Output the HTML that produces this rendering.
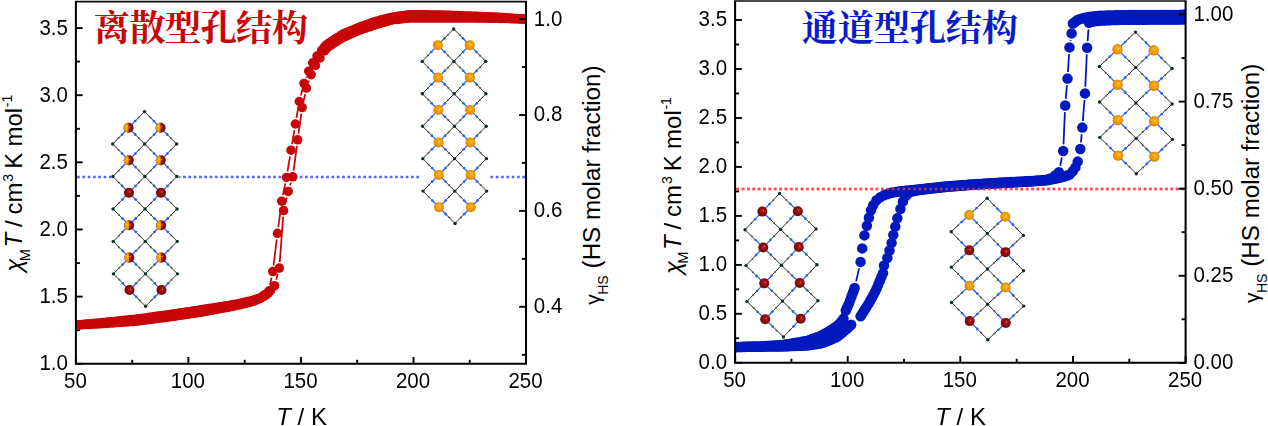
<!DOCTYPE html>
<html><head><meta charset="utf-8"><title>SCO plots</title>
<style>html,body{margin:0;padding:0;background:#fff;}body{width:1268px;height:426px;overflow:hidden;font-family:"Liberation Sans", sans-serif;}svg{display:block;}</style>
</head><body>
<svg width="1268" height="426" viewBox="0 0 1268 426">
<defs>
<radialGradient id="gO" cx="0.5" cy="0.5" r="0.56" fx="0.60" fy="0.40">
<stop offset="0" stop-color="#FFE27A"/><stop offset="0.18" stop-color="#FBAE1E"/><stop offset="0.55" stop-color="#F59A00"/><stop offset="0.85" stop-color="#DD8800"/><stop offset="1" stop-color="#B87000"/>
</radialGradient>
<radialGradient id="gR" cx="0.5" cy="0.5" r="0.56" fx="0.60" fy="0.40">
<stop offset="0" stop-color="#E69A9A"/><stop offset="0.16" stop-color="#A81A1A"/><stop offset="0.55" stop-color="#8E0C0C"/><stop offset="0.85" stop-color="#760808"/><stop offset="1" stop-color="#540303"/>
</radialGradient>
</defs>
<rect width="1268" height="426" fill="#fff"/>
<clipPath id="clipL"><rect x="75.9" y="1.6" width="450.1" height="362.2"/></clipPath>
<g stroke="#000" stroke-width="1.9" fill="none">
<path d="M75.9 363.8h6.8"/>
<path d="M75.9 296.6h6.8"/>
<path d="M75.9 229.5h6.8"/>
<path d="M75.9 162.3h6.8"/>
<path d="M75.9 95.2h6.8"/>
<path d="M75.9 28.1h6.8"/>
<path d="M75.9 330.2h4"/>
<path d="M75.9 263.1h4"/>
<path d="M75.9 195.9h4"/>
<path d="M75.9 128.8h4"/>
<path d="M75.9 61.6h4"/>
<path d="M75.9 363.8v-6.8"/>
<path d="M188.4 363.8v-6.8"/>
<path d="M301.0 363.8v-6.8"/>
<path d="M413.5 363.8v-6.8"/>
<path d="M526.0 363.8v-6.8"/>
<path d="M132.2 363.8v-4"/>
<path d="M244.7 363.8v-4"/>
<path d="M357.2 363.8v-4"/>
<path d="M469.7 363.8v-4"/>
</g>
<g clip-path="url(#clipL)">
<path d="M77.10000000000001 177.0H526.0" stroke="#5868EE" stroke-width="2.7" stroke-dasharray="2.7 2.6" fill="none"/>
<path d="M270.04 285.08L271.56 277.62M273.55 265.50L276.75 239.40M278.30 227.20L280.90 207.30M282.92 195.17L285.28 183.43M287.50 171.33L290.00 156.27M292.02 144.13L294.38 130.07M296.45 117.94L298.25 107.56M300.85 95.55L302.45 89.35M306.21 77.66L306.49 76.94" stroke="#C80508" stroke-width="1.75" fill="none"/>
<g fill="#C80508">
<circle cx="76.0" cy="325.0" r="4.75"/>
<circle cx="78.2" cy="324.9" r="4.75"/>
<circle cx="80.5" cy="324.7" r="4.75"/>
<circle cx="82.8" cy="324.5" r="4.75"/>
<circle cx="85.0" cy="324.3" r="4.75"/>
<circle cx="87.2" cy="324.1" r="4.75"/>
<circle cx="89.5" cy="323.9" r="4.75"/>
<circle cx="91.8" cy="323.7" r="4.75"/>
<circle cx="94.0" cy="323.4" r="4.75"/>
<circle cx="96.2" cy="323.2" r="4.75"/>
<circle cx="98.5" cy="323.0" r="4.75"/>
<circle cx="100.8" cy="322.8" r="4.75"/>
<circle cx="103.0" cy="322.6" r="4.75"/>
<circle cx="105.2" cy="322.4" r="4.75"/>
<circle cx="107.5" cy="322.1" r="4.75"/>
<circle cx="109.8" cy="321.9" r="4.75"/>
<circle cx="112.0" cy="321.7" r="4.75"/>
<circle cx="114.2" cy="321.5" r="4.75"/>
<circle cx="116.5" cy="321.2" r="4.75"/>
<circle cx="118.8" cy="321.0" r="4.75"/>
<circle cx="121.0" cy="320.8" r="4.75"/>
<circle cx="123.2" cy="320.5" r="4.75"/>
<circle cx="125.5" cy="320.3" r="4.75"/>
<circle cx="127.8" cy="320.1" r="4.75"/>
<circle cx="130.0" cy="319.8" r="4.75"/>
<circle cx="132.2" cy="319.6" r="4.75"/>
<circle cx="134.5" cy="319.4" r="4.75"/>
<circle cx="136.8" cy="319.1" r="4.75"/>
<circle cx="139.0" cy="318.8" r="4.75"/>
<circle cx="141.2" cy="318.5" r="4.75"/>
<circle cx="143.5" cy="318.2" r="4.75"/>
<circle cx="145.8" cy="317.9" r="4.75"/>
<circle cx="148.0" cy="317.6" r="4.75"/>
<circle cx="150.2" cy="317.3" r="4.75"/>
<circle cx="152.5" cy="316.9" r="4.75"/>
<circle cx="154.8" cy="316.6" r="4.75"/>
<circle cx="157.0" cy="316.3" r="4.75"/>
<circle cx="159.2" cy="316.0" r="4.75"/>
<circle cx="161.5" cy="315.7" r="4.75"/>
<circle cx="163.8" cy="315.4" r="4.75"/>
<circle cx="166.0" cy="315.1" r="4.75"/>
<circle cx="168.2" cy="314.8" r="4.75"/>
<circle cx="170.5" cy="314.4" r="4.75"/>
<circle cx="172.8" cy="314.1" r="4.75"/>
<circle cx="175.0" cy="313.8" r="4.75"/>
<circle cx="177.2" cy="313.4" r="4.75"/>
<circle cx="179.5" cy="313.1" r="4.75"/>
<circle cx="181.8" cy="312.7" r="4.75"/>
<circle cx="184.0" cy="312.4" r="4.75"/>
<circle cx="186.2" cy="312.1" r="4.75"/>
<circle cx="188.5" cy="311.7" r="4.75"/>
<circle cx="190.8" cy="311.4" r="4.75"/>
<circle cx="193.0" cy="311.0" r="4.75"/>
<circle cx="195.2" cy="310.7" r="4.75"/>
<circle cx="197.5" cy="310.4" r="4.75"/>
<circle cx="199.8" cy="310.0" r="4.75"/>
<circle cx="202.0" cy="309.7" r="4.75"/>
<circle cx="204.2" cy="309.3" r="4.75"/>
<circle cx="206.5" cy="309.0" r="4.75"/>
<circle cx="208.8" cy="308.6" r="4.75"/>
<circle cx="211.0" cy="308.2" r="4.75"/>
<circle cx="213.2" cy="307.9" r="4.75"/>
<circle cx="215.5" cy="307.5" r="4.75"/>
<circle cx="217.8" cy="307.2" r="4.75"/>
<circle cx="220.0" cy="306.8" r="4.75"/>
<circle cx="222.2" cy="306.4" r="4.75"/>
<circle cx="224.5" cy="306.1" r="4.75"/>
<circle cx="226.8" cy="305.7" r="4.75"/>
<circle cx="229.0" cy="305.4" r="4.75"/>
<circle cx="231.2" cy="305.0" r="4.75"/>
<circle cx="233.5" cy="304.6" r="4.75"/>
<circle cx="235.8" cy="304.3" r="4.75"/>
<circle cx="238.0" cy="303.8" r="4.75"/>
<circle cx="240.2" cy="303.2" r="4.75"/>
<circle cx="242.5" cy="302.7" r="4.75"/>
<circle cx="244.8" cy="302.2" r="4.75"/>
<circle cx="247.0" cy="301.7" r="4.75"/>
<circle cx="249.2" cy="301.2" r="4.75"/>
<circle cx="251.5" cy="300.7" r="4.75"/>
<circle cx="253.8" cy="300.0" r="4.75"/>
<circle cx="256.0" cy="299.3" r="4.75"/>
<circle cx="258.2" cy="298.5" r="4.75"/>
<circle cx="260.5" cy="297.8" r="4.75"/>
<circle cx="262.8" cy="296.1" r="4.75"/>
<circle cx="265.0" cy="294.5" r="4.75"/>
<circle cx="268.8" cy="291.1" r="4.75"/>
<circle cx="272.8" cy="271.6" r="4.75"/>
<circle cx="277.5" cy="233.3" r="4.75"/>
<circle cx="281.7" cy="201.2" r="4.75"/>
<circle cx="286.5" cy="177.4" r="4.75"/>
<circle cx="291.0" cy="150.2" r="4.75"/>
<circle cx="295.4" cy="124.0" r="4.75"/>
<circle cx="299.3" cy="101.5" r="4.75"/>
<circle cx="304.0" cy="83.4" r="4.75"/>
<circle cx="308.7" cy="71.2" r="4.75"/>
<circle cx="312.7" cy="62.8" r="4.75"/>
<circle cx="317.0" cy="56.0" r="4.75"/>
<circle cx="321.5" cy="50.5" r="4.75"/>
<circle cx="323.8" cy="47.8" r="4.75"/>
<circle cx="326.0" cy="45.2" r="4.75"/>
<circle cx="328.2" cy="43.5" r="4.75"/>
<circle cx="330.5" cy="42.1" r="4.75"/>
<circle cx="332.8" cy="40.6" r="4.75"/>
<circle cx="335.0" cy="39.2" r="4.75"/>
<circle cx="337.2" cy="37.7" r="4.75"/>
<circle cx="339.5" cy="36.3" r="4.75"/>
<circle cx="341.8" cy="34.8" r="4.75"/>
<circle cx="344.0" cy="33.6" r="4.75"/>
<circle cx="346.2" cy="32.7" r="4.75"/>
<circle cx="348.5" cy="31.8" r="4.75"/>
<circle cx="350.8" cy="30.8" r="4.75"/>
<circle cx="353.0" cy="29.9" r="4.75"/>
<circle cx="355.2" cy="29.0" r="4.75"/>
<circle cx="357.5" cy="28.0" r="4.75"/>
<circle cx="359.8" cy="27.1" r="4.75"/>
<circle cx="362.0" cy="26.3" r="4.75"/>
<circle cx="364.2" cy="25.5" r="4.75"/>
<circle cx="366.5" cy="24.7" r="4.75"/>
<circle cx="368.8" cy="23.9" r="4.75"/>
<circle cx="371.0" cy="23.1" r="4.75"/>
<circle cx="373.2" cy="22.3" r="4.75"/>
<circle cx="375.5" cy="21.5" r="4.75"/>
<circle cx="377.8" cy="20.9" r="4.75"/>
<circle cx="380.0" cy="20.3" r="4.75"/>
<circle cx="382.2" cy="19.7" r="4.75"/>
<circle cx="384.5" cy="19.1" r="4.75"/>
<circle cx="386.8" cy="18.5" r="4.75"/>
<circle cx="389.0" cy="18.0" r="4.75"/>
<circle cx="391.2" cy="17.4" r="4.75"/>
<circle cx="393.5" cy="17.0" r="4.75"/>
<circle cx="395.8" cy="16.7" r="4.75"/>
<circle cx="398.0" cy="16.3" r="4.75"/>
<circle cx="400.2" cy="16.0" r="4.75"/>
<circle cx="402.5" cy="15.7" r="4.75"/>
<circle cx="404.8" cy="15.4" r="4.75"/>
<circle cx="407.0" cy="15.1" r="4.75"/>
<circle cx="409.2" cy="14.8" r="4.75"/>
<circle cx="411.5" cy="14.7" r="4.75"/>
<circle cx="413.8" cy="14.7" r="4.75"/>
<circle cx="416.0" cy="14.7" r="4.75"/>
<circle cx="418.2" cy="14.7" r="4.75"/>
<circle cx="420.5" cy="14.8" r="4.75"/>
<circle cx="422.8" cy="14.8" r="4.75"/>
<circle cx="425.0" cy="14.8" r="4.75"/>
<circle cx="427.2" cy="14.8" r="4.75"/>
<circle cx="429.5" cy="14.9" r="4.75"/>
<circle cx="431.8" cy="14.9" r="4.75"/>
<circle cx="434.0" cy="14.9" r="4.75"/>
<circle cx="436.2" cy="14.9" r="4.75"/>
<circle cx="438.5" cy="15.0" r="4.75"/>
<circle cx="440.8" cy="15.0" r="4.75"/>
<circle cx="443.0" cy="15.1" r="4.75"/>
<circle cx="445.2" cy="15.2" r="4.75"/>
<circle cx="447.5" cy="15.3" r="4.75"/>
<circle cx="449.8" cy="15.3" r="4.75"/>
<circle cx="452.0" cy="15.4" r="4.75"/>
<circle cx="454.2" cy="15.5" r="4.75"/>
<circle cx="456.5" cy="15.6" r="4.75"/>
<circle cx="458.8" cy="15.7" r="4.75"/>
<circle cx="461.0" cy="15.7" r="4.75"/>
<circle cx="463.2" cy="15.8" r="4.75"/>
<circle cx="465.5" cy="15.9" r="4.75"/>
<circle cx="467.8" cy="16.0" r="4.75"/>
<circle cx="470.0" cy="16.1" r="4.75"/>
<circle cx="472.2" cy="16.2" r="4.75"/>
<circle cx="474.5" cy="16.2" r="4.75"/>
<circle cx="476.8" cy="16.3" r="4.75"/>
<circle cx="479.0" cy="16.4" r="4.75"/>
<circle cx="481.2" cy="16.5" r="4.75"/>
<circle cx="483.5" cy="16.6" r="4.75"/>
<circle cx="485.8" cy="16.7" r="4.75"/>
<circle cx="488.0" cy="16.8" r="4.75"/>
<circle cx="490.2" cy="16.9" r="4.75"/>
<circle cx="492.5" cy="16.9" r="4.75"/>
<circle cx="494.8" cy="17.0" r="4.75"/>
<circle cx="497.0" cy="17.2" r="4.75"/>
<circle cx="499.2" cy="17.3" r="4.75"/>
<circle cx="501.5" cy="17.5" r="4.75"/>
<circle cx="503.8" cy="17.6" r="4.75"/>
<circle cx="506.0" cy="17.8" r="4.75"/>
<circle cx="508.2" cy="17.9" r="4.75"/>
<circle cx="510.5" cy="18.1" r="4.75"/>
<circle cx="512.8" cy="18.2" r="4.75"/>
<circle cx="515.0" cy="18.4" r="4.75"/>
<circle cx="517.2" cy="18.5" r="4.75"/>
<circle cx="519.5" cy="18.7" r="4.75"/>
<circle cx="521.8" cy="18.8" r="4.75"/>
<circle cx="524.0" cy="19.0" r="4.75"/>
<circle cx="526.2" cy="19.1" r="4.75"/>
</g>
<path d="M276.19 279.76L277.71 274.04M279.76 261.97L283.14 216.73M285.03 204.62L286.77 197.38M290.05 185.53L290.95 182.67M293.61 170.70L296.89 145.90M298.55 133.71L301.35 113.69M303.49 101.59L305.11 94.11M308.44 82.30L309.06 80.50" stroke="#C80508" stroke-width="1.75" fill="none"/>
<g fill="#C80508">
<circle cx="77.0" cy="325.0" r="4.75"/>
<circle cx="79.2" cy="324.9" r="4.75"/>
<circle cx="81.5" cy="324.7" r="4.75"/>
<circle cx="83.8" cy="324.6" r="4.75"/>
<circle cx="86.0" cy="324.5" r="4.75"/>
<circle cx="88.2" cy="324.4" r="4.75"/>
<circle cx="90.5" cy="324.3" r="4.75"/>
<circle cx="92.8" cy="324.1" r="4.75"/>
<circle cx="95.0" cy="324.0" r="4.75"/>
<circle cx="97.2" cy="323.9" r="4.75"/>
<circle cx="99.5" cy="323.8" r="4.75"/>
<circle cx="101.8" cy="323.7" r="4.75"/>
<circle cx="104.0" cy="323.5" r="4.75"/>
<circle cx="106.2" cy="323.4" r="4.75"/>
<circle cx="108.5" cy="323.2" r="4.75"/>
<circle cx="110.8" cy="323.0" r="4.75"/>
<circle cx="113.0" cy="322.9" r="4.75"/>
<circle cx="115.2" cy="322.7" r="4.75"/>
<circle cx="117.5" cy="322.6" r="4.75"/>
<circle cx="119.8" cy="322.4" r="4.75"/>
<circle cx="122.0" cy="322.2" r="4.75"/>
<circle cx="124.2" cy="322.1" r="4.75"/>
<circle cx="126.5" cy="321.9" r="4.75"/>
<circle cx="128.8" cy="321.7" r="4.75"/>
<circle cx="131.0" cy="321.6" r="4.75"/>
<circle cx="133.2" cy="321.4" r="4.75"/>
<circle cx="135.5" cy="321.3" r="4.75"/>
<circle cx="137.8" cy="321.0" r="4.75"/>
<circle cx="140.0" cy="320.7" r="4.75"/>
<circle cx="142.2" cy="320.4" r="4.75"/>
<circle cx="144.5" cy="320.1" r="4.75"/>
<circle cx="146.8" cy="319.8" r="4.75"/>
<circle cx="149.0" cy="319.5" r="4.75"/>
<circle cx="151.2" cy="319.3" r="4.75"/>
<circle cx="153.5" cy="319.0" r="4.75"/>
<circle cx="155.8" cy="318.7" r="4.75"/>
<circle cx="158.0" cy="318.4" r="4.75"/>
<circle cx="160.2" cy="318.1" r="4.75"/>
<circle cx="162.5" cy="317.8" r="4.75"/>
<circle cx="164.8" cy="317.5" r="4.75"/>
<circle cx="167.0" cy="317.2" r="4.75"/>
<circle cx="169.2" cy="316.9" r="4.75"/>
<circle cx="171.5" cy="316.6" r="4.75"/>
<circle cx="173.8" cy="316.3" r="4.75"/>
<circle cx="176.0" cy="315.9" r="4.75"/>
<circle cx="178.2" cy="315.6" r="4.75"/>
<circle cx="180.5" cy="315.3" r="4.75"/>
<circle cx="182.8" cy="314.9" r="4.75"/>
<circle cx="185.0" cy="314.6" r="4.75"/>
<circle cx="187.2" cy="314.3" r="4.75"/>
<circle cx="189.5" cy="313.9" r="4.75"/>
<circle cx="191.8" cy="313.6" r="4.75"/>
<circle cx="194.0" cy="313.3" r="4.75"/>
<circle cx="196.2" cy="312.9" r="4.75"/>
<circle cx="198.5" cy="312.6" r="4.75"/>
<circle cx="200.8" cy="312.3" r="4.75"/>
<circle cx="203.0" cy="311.9" r="4.75"/>
<circle cx="205.2" cy="311.5" r="4.75"/>
<circle cx="207.5" cy="311.1" r="4.75"/>
<circle cx="209.8" cy="310.6" r="4.75"/>
<circle cx="212.0" cy="310.2" r="4.75"/>
<circle cx="214.2" cy="309.8" r="4.75"/>
<circle cx="216.5" cy="309.4" r="4.75"/>
<circle cx="218.8" cy="309.0" r="4.75"/>
<circle cx="221.0" cy="308.5" r="4.75"/>
<circle cx="223.2" cy="308.1" r="4.75"/>
<circle cx="225.5" cy="307.7" r="4.75"/>
<circle cx="227.8" cy="307.3" r="4.75"/>
<circle cx="230.0" cy="306.8" r="4.75"/>
<circle cx="232.2" cy="306.4" r="4.75"/>
<circle cx="234.5" cy="306.0" r="4.75"/>
<circle cx="236.8" cy="305.5" r="4.75"/>
<circle cx="239.0" cy="305.0" r="4.75"/>
<circle cx="241.2" cy="304.4" r="4.75"/>
<circle cx="243.5" cy="303.8" r="4.75"/>
<circle cx="245.8" cy="303.3" r="4.75"/>
<circle cx="248.0" cy="302.7" r="4.75"/>
<circle cx="250.2" cy="302.2" r="4.75"/>
<circle cx="252.5" cy="301.6" r="4.75"/>
<circle cx="254.8" cy="300.7" r="4.75"/>
<circle cx="257.0" cy="299.8" r="4.75"/>
<circle cx="259.2" cy="298.9" r="4.75"/>
<circle cx="261.5" cy="297.7" r="4.75"/>
<circle cx="263.8" cy="296.3" r="4.75"/>
<circle cx="266.0" cy="294.8" r="4.75"/>
<circle cx="268.2" cy="293.2" r="4.75"/>
<circle cx="270.5" cy="290.6" r="4.75"/>
<circle cx="274.6" cy="285.7" r="4.75"/>
<circle cx="279.3" cy="268.1" r="4.75"/>
<circle cx="283.6" cy="210.6" r="4.75"/>
<circle cx="288.2" cy="191.4" r="4.75"/>
<circle cx="292.8" cy="176.8" r="4.75"/>
<circle cx="297.7" cy="139.8" r="4.75"/>
<circle cx="302.2" cy="107.6" r="4.75"/>
<circle cx="306.4" cy="88.1" r="4.75"/>
<circle cx="311.1" cy="74.7" r="4.75"/>
<circle cx="315.5" cy="65.5" r="4.75"/>
<circle cx="320.0" cy="58.0" r="4.75"/>
<circle cx="324.5" cy="51.0" r="4.75"/>
<circle cx="326.8" cy="47.9" r="4.75"/>
<circle cx="329.0" cy="46.4" r="4.75"/>
<circle cx="331.2" cy="45.0" r="4.75"/>
<circle cx="333.5" cy="43.5" r="4.75"/>
<circle cx="335.8" cy="42.0" r="4.75"/>
<circle cx="338.0" cy="40.6" r="4.75"/>
<circle cx="340.2" cy="39.1" r="4.75"/>
<circle cx="342.5" cy="37.7" r="4.75"/>
<circle cx="344.8" cy="36.6" r="4.75"/>
<circle cx="347.0" cy="35.6" r="4.75"/>
<circle cx="349.2" cy="34.6" r="4.75"/>
<circle cx="351.5" cy="33.6" r="4.75"/>
<circle cx="353.8" cy="32.6" r="4.75"/>
<circle cx="356.0" cy="31.6" r="4.75"/>
<circle cx="358.2" cy="30.7" r="4.75"/>
<circle cx="360.5" cy="29.8" r="4.75"/>
<circle cx="362.8" cy="29.0" r="4.75"/>
<circle cx="365.0" cy="28.3" r="4.75"/>
<circle cx="367.2" cy="27.5" r="4.75"/>
<circle cx="369.5" cy="26.8" r="4.75"/>
<circle cx="371.8" cy="26.0" r="4.75"/>
<circle cx="374.0" cy="25.3" r="4.75"/>
<circle cx="376.2" cy="24.5" r="4.75"/>
<circle cx="378.5" cy="23.9" r="4.75"/>
<circle cx="380.8" cy="23.2" r="4.75"/>
<circle cx="383.0" cy="22.5" r="4.75"/>
<circle cx="385.2" cy="21.9" r="4.75"/>
<circle cx="387.5" cy="21.2" r="4.75"/>
<circle cx="389.8" cy="20.6" r="4.75"/>
<circle cx="392.0" cy="19.9" r="4.75"/>
<circle cx="394.2" cy="19.6" r="4.75"/>
<circle cx="396.5" cy="19.4" r="4.75"/>
<circle cx="398.8" cy="19.2" r="4.75"/>
<circle cx="401.0" cy="18.9" r="4.75"/>
<circle cx="403.2" cy="18.7" r="4.75"/>
<circle cx="405.5" cy="18.4" r="4.75"/>
<circle cx="407.8" cy="18.2" r="4.75"/>
<circle cx="410.0" cy="17.9" r="4.75"/>
<circle cx="412.2" cy="17.9" r="4.75"/>
<circle cx="414.5" cy="17.9" r="4.75"/>
<circle cx="416.8" cy="17.9" r="4.75"/>
<circle cx="419.0" cy="17.9" r="4.75"/>
<circle cx="421.2" cy="17.9" r="4.75"/>
<circle cx="423.5" cy="17.9" r="4.75"/>
<circle cx="425.8" cy="17.9" r="4.75"/>
<circle cx="428.0" cy="17.9" r="4.75"/>
<circle cx="430.2" cy="17.9" r="4.75"/>
<circle cx="432.5" cy="17.9" r="4.75"/>
<circle cx="434.8" cy="17.9" r="4.75"/>
<circle cx="437.0" cy="17.9" r="4.75"/>
<circle cx="439.2" cy="17.9" r="4.75"/>
<circle cx="441.5" cy="17.9" r="4.75"/>
<circle cx="443.8" cy="17.9" r="4.75"/>
<circle cx="446.0" cy="17.9" r="4.75"/>
<circle cx="448.2" cy="17.9" r="4.75"/>
<circle cx="450.5" cy="17.9" r="4.75"/>
<circle cx="452.8" cy="17.9" r="4.75"/>
<circle cx="455.0" cy="17.9" r="4.75"/>
<circle cx="457.2" cy="17.9" r="4.75"/>
<circle cx="459.5" cy="17.9" r="4.75"/>
<circle cx="461.8" cy="17.9" r="4.75"/>
<circle cx="464.0" cy="17.9" r="4.75"/>
<circle cx="466.2" cy="17.9" r="4.75"/>
<circle cx="468.5" cy="18.0" r="4.75"/>
<circle cx="470.8" cy="18.0" r="4.75"/>
<circle cx="473.0" cy="18.0" r="4.75"/>
<circle cx="475.2" cy="18.0" r="4.75"/>
<circle cx="477.5" cy="18.1" r="4.75"/>
<circle cx="479.8" cy="18.1" r="4.75"/>
<circle cx="482.0" cy="18.1" r="4.75"/>
<circle cx="484.2" cy="18.1" r="4.75"/>
<circle cx="486.5" cy="18.2" r="4.75"/>
<circle cx="488.8" cy="18.2" r="4.75"/>
<circle cx="491.0" cy="18.2" r="4.75"/>
<circle cx="493.2" cy="18.2" r="4.75"/>
<circle cx="495.5" cy="18.3" r="4.75"/>
<circle cx="497.8" cy="18.3" r="4.75"/>
<circle cx="500.0" cy="18.4" r="4.75"/>
<circle cx="502.2" cy="18.4" r="4.75"/>
<circle cx="504.5" cy="18.5" r="4.75"/>
<circle cx="506.8" cy="18.6" r="4.75"/>
<circle cx="509.0" cy="18.6" r="4.75"/>
<circle cx="511.2" cy="18.7" r="4.75"/>
<circle cx="513.5" cy="18.8" r="4.75"/>
<circle cx="515.8" cy="18.8" r="4.75"/>
<circle cx="518.0" cy="18.9" r="4.75"/>
<circle cx="520.2" cy="19.0" r="4.75"/>
<circle cx="522.5" cy="19.0" r="4.75"/>
<circle cx="524.8" cy="19.1" r="4.75"/>
</g>
</g>
<rect x="111.0" y="110.1" width="68.1" height="197.7" fill="#fff"/>
<path d="M128.59 127.82L136.07 120.20" stroke="#2B62E8" stroke-width="1.25"/>
<path d="M136.07 120.20L144.50 111.60" stroke="#202020" stroke-width="0.95"/>
<circle cx="135.27" cy="121.01" r="1.3" fill="#2460EE"/>
<circle cx="138.61" cy="117.60" r="1.0" fill="#555"/>
<path d="M128.59 127.82L121.12 135.45" stroke="#2B62E8" stroke-width="1.25"/>
<path d="M121.12 135.45L112.68 144.05" stroke="#202020" stroke-width="0.95"/>
<circle cx="121.91" cy="134.64" r="1.3" fill="#2460EE"/>
<circle cx="118.57" cy="138.05" r="1.0" fill="#555"/>
<path d="M128.59 127.82L136.16 135.45" stroke="#2B62E8" stroke-width="1.25"/>
<path d="M136.16 135.45L144.68 144.05" stroke="#202020" stroke-width="0.95"/>
<circle cx="135.35" cy="134.64" r="1.3" fill="#2460EE"/>
<circle cx="138.73" cy="138.05" r="1.0" fill="#555"/>
<path d="M160.59 127.82L153.03 120.20" stroke="#2B62E8" stroke-width="1.25"/>
<path d="M153.03 120.20L144.50 111.60" stroke="#202020" stroke-width="0.95"/>
<circle cx="153.83" cy="121.01" r="1.3" fill="#2460EE"/>
<circle cx="150.45" cy="117.60" r="1.0" fill="#555"/>
<path d="M160.59 127.82L153.12 135.45" stroke="#2B62E8" stroke-width="1.25"/>
<path d="M153.12 135.45L144.68 144.05" stroke="#202020" stroke-width="0.95"/>
<circle cx="153.91" cy="134.64" r="1.3" fill="#2460EE"/>
<circle cx="150.57" cy="138.05" r="1.0" fill="#555"/>
<path d="M160.59 127.82L168.16 135.45" stroke="#2B62E8" stroke-width="1.25"/>
<path d="M168.16 135.45L176.68 144.05" stroke="#202020" stroke-width="0.95"/>
<circle cx="167.35" cy="134.64" r="1.3" fill="#2460EE"/>
<circle cx="170.73" cy="138.05" r="1.0" fill="#555"/>
<path d="M128.78 160.28L121.21 152.65" stroke="#2B62E8" stroke-width="1.25"/>
<path d="M121.21 152.65L112.68 144.05" stroke="#202020" stroke-width="0.95"/>
<circle cx="122.02" cy="153.46" r="1.3" fill="#2460EE"/>
<circle cx="118.64" cy="150.05" r="1.0" fill="#555"/>
<path d="M128.78 160.28L136.25 152.65" stroke="#2B62E8" stroke-width="1.25"/>
<path d="M136.25 152.65L144.68 144.05" stroke="#202020" stroke-width="0.95"/>
<circle cx="135.46" cy="153.46" r="1.3" fill="#2460EE"/>
<circle cx="138.80" cy="150.05" r="1.0" fill="#555"/>
<path d="M128.78 160.28L121.30 167.90" stroke="#2B62E8" stroke-width="1.25"/>
<path d="M121.30 167.90L112.87 176.50" stroke="#202020" stroke-width="0.95"/>
<circle cx="122.10" cy="167.09" r="1.3" fill="#2460EE"/>
<circle cx="118.76" cy="170.50" r="1.0" fill="#555"/>
<path d="M128.78 160.28L136.34 167.90" stroke="#2B62E8" stroke-width="1.25"/>
<path d="M136.34 167.90L144.87 176.50" stroke="#202020" stroke-width="0.95"/>
<circle cx="135.54" cy="167.09" r="1.3" fill="#2460EE"/>
<circle cx="138.92" cy="170.50" r="1.0" fill="#555"/>
<path d="M160.78 160.28L153.21 152.65" stroke="#2B62E8" stroke-width="1.25"/>
<path d="M153.21 152.65L144.68 144.05" stroke="#202020" stroke-width="0.95"/>
<circle cx="154.02" cy="153.46" r="1.3" fill="#2460EE"/>
<circle cx="150.64" cy="150.05" r="1.0" fill="#555"/>
<path d="M160.78 160.28L168.25 152.65" stroke="#2B62E8" stroke-width="1.25"/>
<path d="M168.25 152.65L176.68 144.05" stroke="#202020" stroke-width="0.95"/>
<circle cx="167.46" cy="153.46" r="1.3" fill="#2460EE"/>
<circle cx="170.80" cy="150.05" r="1.0" fill="#555"/>
<path d="M160.78 160.28L153.30 167.90" stroke="#2B62E8" stroke-width="1.25"/>
<path d="M153.30 167.90L144.87 176.50" stroke="#202020" stroke-width="0.95"/>
<circle cx="154.10" cy="167.09" r="1.3" fill="#2460EE"/>
<circle cx="150.76" cy="170.50" r="1.0" fill="#555"/>
<path d="M160.78 160.28L168.34 167.90" stroke="#2B62E8" stroke-width="1.25"/>
<path d="M168.34 167.90L176.87 176.50" stroke="#202020" stroke-width="0.95"/>
<circle cx="167.54" cy="167.09" r="1.3" fill="#2460EE"/>
<circle cx="170.92" cy="170.50" r="1.0" fill="#555"/>
<path d="M128.96 192.72L121.40 185.10" stroke="#2B62E8" stroke-width="1.25"/>
<path d="M121.40 185.10L112.87 176.50" stroke="#202020" stroke-width="0.95"/>
<circle cx="122.20" cy="185.91" r="1.3" fill="#2460EE"/>
<circle cx="118.82" cy="182.50" r="1.0" fill="#555"/>
<path d="M128.96 192.72L136.44 185.10" stroke="#2B62E8" stroke-width="1.25"/>
<path d="M136.44 185.10L144.87 176.50" stroke="#202020" stroke-width="0.95"/>
<circle cx="135.64" cy="185.91" r="1.3" fill="#2460EE"/>
<circle cx="138.98" cy="182.50" r="1.0" fill="#555"/>
<path d="M128.96 192.72L121.49 200.35" stroke="#2B62E8" stroke-width="1.25"/>
<path d="M121.49 200.35L113.05 208.95" stroke="#202020" stroke-width="0.95"/>
<circle cx="122.28" cy="199.54" r="1.3" fill="#2460EE"/>
<circle cx="118.94" cy="202.95" r="1.0" fill="#555"/>
<path d="M128.96 192.72L136.53 200.35" stroke="#2B62E8" stroke-width="1.25"/>
<path d="M136.53 200.35L145.05 208.95" stroke="#202020" stroke-width="0.95"/>
<circle cx="135.72" cy="199.54" r="1.3" fill="#2460EE"/>
<circle cx="139.10" cy="202.95" r="1.0" fill="#555"/>
<path d="M160.96 192.72L153.40 185.10" stroke="#2B62E8" stroke-width="1.25"/>
<path d="M153.40 185.10L144.87 176.50" stroke="#202020" stroke-width="0.95"/>
<circle cx="154.20" cy="185.91" r="1.3" fill="#2460EE"/>
<circle cx="150.82" cy="182.50" r="1.0" fill="#555"/>
<path d="M160.96 192.72L168.44 185.10" stroke="#2B62E8" stroke-width="1.25"/>
<path d="M168.44 185.10L176.87 176.50" stroke="#202020" stroke-width="0.95"/>
<circle cx="167.64" cy="185.91" r="1.3" fill="#2460EE"/>
<circle cx="170.98" cy="182.50" r="1.0" fill="#555"/>
<path d="M160.96 192.72L153.49 200.35" stroke="#2B62E8" stroke-width="1.25"/>
<path d="M153.49 200.35L145.05 208.95" stroke="#202020" stroke-width="0.95"/>
<circle cx="154.28" cy="199.54" r="1.3" fill="#2460EE"/>
<circle cx="150.94" cy="202.95" r="1.0" fill="#555"/>
<path d="M160.96 192.72L168.53 200.35" stroke="#2B62E8" stroke-width="1.25"/>
<path d="M168.53 200.35L177.05 208.95" stroke="#202020" stroke-width="0.95"/>
<circle cx="167.72" cy="199.54" r="1.3" fill="#2460EE"/>
<circle cx="171.10" cy="202.95" r="1.0" fill="#555"/>
<path d="M129.15 225.18L121.58 217.55" stroke="#2B62E8" stroke-width="1.25"/>
<path d="M121.58 217.55L113.05 208.95" stroke="#202020" stroke-width="0.95"/>
<circle cx="122.39" cy="218.36" r="1.3" fill="#2460EE"/>
<circle cx="119.01" cy="214.95" r="1.0" fill="#555"/>
<path d="M129.15 225.18L136.62 217.55" stroke="#2B62E8" stroke-width="1.25"/>
<path d="M136.62 217.55L145.05 208.95" stroke="#202020" stroke-width="0.95"/>
<circle cx="135.83" cy="218.36" r="1.3" fill="#2460EE"/>
<circle cx="139.17" cy="214.95" r="1.0" fill="#555"/>
<path d="M129.15 225.18L121.67 232.80" stroke="#2B62E8" stroke-width="1.25"/>
<path d="M121.67 232.80L113.24 241.40" stroke="#202020" stroke-width="0.95"/>
<circle cx="122.47" cy="231.99" r="1.3" fill="#2460EE"/>
<circle cx="119.13" cy="235.40" r="1.0" fill="#555"/>
<path d="M129.15 225.18L136.71 232.80" stroke="#2B62E8" stroke-width="1.25"/>
<path d="M136.71 232.80L145.24 241.40" stroke="#202020" stroke-width="0.95"/>
<circle cx="135.91" cy="231.99" r="1.3" fill="#2460EE"/>
<circle cx="139.29" cy="235.40" r="1.0" fill="#555"/>
<path d="M161.15 225.18L153.58 217.55" stroke="#2B62E8" stroke-width="1.25"/>
<path d="M153.58 217.55L145.05 208.95" stroke="#202020" stroke-width="0.95"/>
<circle cx="154.39" cy="218.36" r="1.3" fill="#2460EE"/>
<circle cx="151.01" cy="214.95" r="1.0" fill="#555"/>
<path d="M161.15 225.18L168.62 217.55" stroke="#2B62E8" stroke-width="1.25"/>
<path d="M168.62 217.55L177.05 208.95" stroke="#202020" stroke-width="0.95"/>
<circle cx="167.83" cy="218.36" r="1.3" fill="#2460EE"/>
<circle cx="171.17" cy="214.95" r="1.0" fill="#555"/>
<path d="M161.15 225.18L153.67 232.80" stroke="#2B62E8" stroke-width="1.25"/>
<path d="M153.67 232.80L145.24 241.40" stroke="#202020" stroke-width="0.95"/>
<circle cx="154.47" cy="231.99" r="1.3" fill="#2460EE"/>
<circle cx="151.13" cy="235.40" r="1.0" fill="#555"/>
<path d="M161.15 225.18L168.71 232.80" stroke="#2B62E8" stroke-width="1.25"/>
<path d="M168.71 232.80L177.24 241.40" stroke="#202020" stroke-width="0.95"/>
<circle cx="167.91" cy="231.99" r="1.3" fill="#2460EE"/>
<circle cx="171.29" cy="235.40" r="1.0" fill="#555"/>
<path d="M129.33 257.62L121.77 250.00" stroke="#2B62E8" stroke-width="1.25"/>
<path d="M121.77 250.00L113.24 241.40" stroke="#202020" stroke-width="0.95"/>
<circle cx="122.57" cy="250.81" r="1.3" fill="#2460EE"/>
<circle cx="119.19" cy="247.40" r="1.0" fill="#555"/>
<path d="M129.33 257.62L136.81 250.00" stroke="#2B62E8" stroke-width="1.25"/>
<path d="M136.81 250.00L145.24 241.40" stroke="#202020" stroke-width="0.95"/>
<circle cx="136.01" cy="250.81" r="1.3" fill="#2460EE"/>
<circle cx="139.35" cy="247.40" r="1.0" fill="#555"/>
<path d="M129.33 257.62L121.86 265.25" stroke="#2B62E8" stroke-width="1.25"/>
<path d="M121.86 265.25L113.42 273.85" stroke="#202020" stroke-width="0.95"/>
<circle cx="122.65" cy="264.44" r="1.3" fill="#2460EE"/>
<circle cx="119.31" cy="267.85" r="1.0" fill="#555"/>
<path d="M129.33 257.62L136.90 265.25" stroke="#2B62E8" stroke-width="1.25"/>
<path d="M136.90 265.25L145.42 273.85" stroke="#202020" stroke-width="0.95"/>
<circle cx="136.09" cy="264.44" r="1.3" fill="#2460EE"/>
<circle cx="139.47" cy="267.85" r="1.0" fill="#555"/>
<path d="M161.33 257.62L153.77 250.00" stroke="#2B62E8" stroke-width="1.25"/>
<path d="M153.77 250.00L145.24 241.40" stroke="#202020" stroke-width="0.95"/>
<circle cx="154.57" cy="250.81" r="1.3" fill="#2460EE"/>
<circle cx="151.19" cy="247.40" r="1.0" fill="#555"/>
<path d="M161.33 257.62L168.81 250.00" stroke="#2B62E8" stroke-width="1.25"/>
<path d="M168.81 250.00L177.24 241.40" stroke="#202020" stroke-width="0.95"/>
<circle cx="168.01" cy="250.81" r="1.3" fill="#2460EE"/>
<circle cx="171.35" cy="247.40" r="1.0" fill="#555"/>
<path d="M161.33 257.62L153.86 265.25" stroke="#2B62E8" stroke-width="1.25"/>
<path d="M153.86 265.25L145.42 273.85" stroke="#202020" stroke-width="0.95"/>
<circle cx="154.65" cy="264.44" r="1.3" fill="#2460EE"/>
<circle cx="151.31" cy="267.85" r="1.0" fill="#555"/>
<path d="M161.33 257.62L168.90 265.25" stroke="#2B62E8" stroke-width="1.25"/>
<path d="M168.90 265.25L177.42 273.85" stroke="#202020" stroke-width="0.95"/>
<circle cx="168.09" cy="264.44" r="1.3" fill="#2460EE"/>
<circle cx="171.47" cy="267.85" r="1.0" fill="#555"/>
<path d="M129.52 290.08L121.95 282.45" stroke="#2B62E8" stroke-width="1.25"/>
<path d="M121.95 282.45L113.42 273.85" stroke="#202020" stroke-width="0.95"/>
<circle cx="122.76" cy="283.26" r="1.3" fill="#2460EE"/>
<circle cx="119.38" cy="279.85" r="1.0" fill="#555"/>
<path d="M129.52 290.08L136.99 282.45" stroke="#2B62E8" stroke-width="1.25"/>
<path d="M136.99 282.45L145.42 273.85" stroke="#202020" stroke-width="0.95"/>
<circle cx="136.20" cy="283.26" r="1.3" fill="#2460EE"/>
<circle cx="139.54" cy="279.85" r="1.0" fill="#555"/>
<path d="M129.52 290.08L137.08 297.70" stroke="#2B62E8" stroke-width="1.25"/>
<path d="M137.08 297.70L145.61 306.30" stroke="#202020" stroke-width="0.95"/>
<circle cx="136.28" cy="296.89" r="1.3" fill="#2460EE"/>
<circle cx="139.66" cy="300.30" r="1.0" fill="#555"/>
<path d="M161.52 290.08L153.95 282.45" stroke="#2B62E8" stroke-width="1.25"/>
<path d="M153.95 282.45L145.42 273.85" stroke="#202020" stroke-width="0.95"/>
<circle cx="154.76" cy="283.26" r="1.3" fill="#2460EE"/>
<circle cx="151.38" cy="279.85" r="1.0" fill="#555"/>
<path d="M161.52 290.08L168.99 282.45" stroke="#2B62E8" stroke-width="1.25"/>
<path d="M168.99 282.45L177.42 273.85" stroke="#202020" stroke-width="0.95"/>
<circle cx="168.20" cy="283.26" r="1.3" fill="#2460EE"/>
<circle cx="171.54" cy="279.85" r="1.0" fill="#555"/>
<path d="M161.52 290.08L154.04 297.70" stroke="#2B62E8" stroke-width="1.25"/>
<path d="M154.04 297.70L145.61 306.30" stroke="#202020" stroke-width="0.95"/>
<circle cx="154.84" cy="296.89" r="1.3" fill="#2460EE"/>
<circle cx="151.50" cy="300.30" r="1.0" fill="#555"/>
<circle cx="144.50" cy="111.60" r="1.7" fill="#0a3512"/>
<circle cx="112.68" cy="144.05" r="1.7" fill="#0a3512"/>
<circle cx="144.68" cy="144.05" r="1.7" fill="#0a3512"/>
<circle cx="176.68" cy="144.05" r="1.7" fill="#0a3512"/>
<circle cx="112.87" cy="176.50" r="1.7" fill="#0a3512"/>
<circle cx="144.87" cy="176.50" r="1.7" fill="#0a3512"/>
<circle cx="176.87" cy="176.50" r="1.7" fill="#0a3512"/>
<circle cx="113.05" cy="208.95" r="1.7" fill="#0a3512"/>
<circle cx="145.05" cy="208.95" r="1.7" fill="#0a3512"/>
<circle cx="177.05" cy="208.95" r="1.7" fill="#0a3512"/>
<circle cx="113.24" cy="241.40" r="1.7" fill="#0a3512"/>
<circle cx="145.24" cy="241.40" r="1.7" fill="#0a3512"/>
<circle cx="177.24" cy="241.40" r="1.7" fill="#0a3512"/>
<circle cx="113.42" cy="273.85" r="1.7" fill="#0a3512"/>
<circle cx="145.42" cy="273.85" r="1.7" fill="#0a3512"/>
<circle cx="177.42" cy="273.85" r="1.7" fill="#0a3512"/>
<circle cx="145.61" cy="306.30" r="1.7" fill="#0a3512"/>
<circle cx="128.59" cy="127.82" r="5.0" fill="url(#gR)"/>
<path d="M128.59 122.82A5.0 5.0 0 0 0 128.59 132.82Z" fill="url(#gO)"/>
<circle cx="160.59" cy="127.82" r="5.0" fill="url(#gR)"/>
<path d="M160.59 122.82A5.0 5.0 0 0 0 160.59 132.82Z" fill="url(#gO)"/>
<circle cx="128.78" cy="160.28" r="5.0" fill="url(#gR)"/>
<path d="M128.78 155.28A5.0 5.0 0 0 0 128.78 165.28Z" fill="url(#gO)"/>
<circle cx="160.78" cy="160.28" r="5.0" fill="url(#gR)"/>
<path d="M160.78 155.28A5.0 5.0 0 0 0 160.78 165.28Z" fill="url(#gO)"/>
<circle cx="128.96" cy="192.72" r="5.0" fill="url(#gR)"/>
<circle cx="160.96" cy="192.72" r="5.0" fill="url(#gR)"/>
<circle cx="129.15" cy="225.18" r="5.0" fill="url(#gR)"/>
<path d="M129.15 220.18A5.0 5.0 0 0 0 129.15 230.18Z" fill="url(#gO)"/>
<circle cx="161.15" cy="225.18" r="5.0" fill="url(#gR)"/>
<path d="M161.15 220.18A5.0 5.0 0 0 0 161.15 230.18Z" fill="url(#gO)"/>
<circle cx="129.33" cy="257.62" r="5.0" fill="url(#gR)"/>
<path d="M129.33 252.62A5.0 5.0 0 0 0 129.33 262.62Z" fill="url(#gO)"/>
<circle cx="161.33" cy="257.62" r="5.0" fill="url(#gR)"/>
<path d="M161.33 252.62A5.0 5.0 0 0 0 161.33 262.62Z" fill="url(#gO)"/>
<circle cx="129.52" cy="290.08" r="5.0" fill="url(#gR)"/>
<circle cx="161.52" cy="290.08" r="5.0" fill="url(#gR)"/>
<rect x="420.4" y="27.4" width="68.0" height="197.6" fill="#fff"/>
<path d="M437.91 45.16L445.33 37.54" stroke="#2B62E8" stroke-width="1.25"/>
<path d="M445.33 37.54L453.70 28.95" stroke="#202020" stroke-width="0.95"/>
<circle cx="444.54" cy="38.35" r="1.3" fill="#2460EE"/>
<circle cx="447.86" cy="34.95" r="1.0" fill="#555"/>
<path d="M437.91 45.16L430.49 52.79" stroke="#2B62E8" stroke-width="1.25"/>
<path d="M430.49 52.79L422.13 61.38" stroke="#202020" stroke-width="0.95"/>
<circle cx="431.28" cy="51.98" r="1.3" fill="#2460EE"/>
<circle cx="427.97" cy="55.38" r="1.0" fill="#555"/>
<path d="M437.91 45.16L445.44 52.79" stroke="#2B62E8" stroke-width="1.25"/>
<path d="M445.44 52.79L453.93 61.38" stroke="#202020" stroke-width="0.95"/>
<circle cx="444.64" cy="51.98" r="1.3" fill="#2460EE"/>
<circle cx="448.00" cy="55.38" r="1.0" fill="#555"/>
<path d="M469.71 45.16L462.19 37.54" stroke="#2B62E8" stroke-width="1.25"/>
<path d="M462.19 37.54L453.70 28.95" stroke="#202020" stroke-width="0.95"/>
<circle cx="462.99" cy="38.35" r="1.3" fill="#2460EE"/>
<circle cx="459.62" cy="34.95" r="1.0" fill="#555"/>
<path d="M469.71 45.16L462.29 52.79" stroke="#2B62E8" stroke-width="1.25"/>
<path d="M462.29 52.79L453.93 61.38" stroke="#202020" stroke-width="0.95"/>
<circle cx="463.08" cy="51.98" r="1.3" fill="#2460EE"/>
<circle cx="459.77" cy="55.38" r="1.0" fill="#555"/>
<path d="M469.71 45.16L477.24 52.79" stroke="#2B62E8" stroke-width="1.25"/>
<path d="M477.24 52.79L485.73 61.38" stroke="#202020" stroke-width="0.95"/>
<circle cx="476.44" cy="51.98" r="1.3" fill="#2460EE"/>
<circle cx="479.80" cy="55.38" r="1.0" fill="#555"/>
<path d="M438.14 77.59L430.61 69.97" stroke="#2B62E8" stroke-width="1.25"/>
<path d="M430.61 69.97L422.13 61.38" stroke="#202020" stroke-width="0.95"/>
<circle cx="431.41" cy="70.78" r="1.3" fill="#2460EE"/>
<circle cx="428.05" cy="67.38" r="1.0" fill="#555"/>
<path d="M438.14 77.59L445.56 69.97" stroke="#2B62E8" stroke-width="1.25"/>
<path d="M445.56 69.97L453.93 61.38" stroke="#202020" stroke-width="0.95"/>
<circle cx="444.77" cy="70.78" r="1.3" fill="#2460EE"/>
<circle cx="448.09" cy="67.38" r="1.0" fill="#555"/>
<path d="M438.14 77.59L430.72 85.22" stroke="#2B62E8" stroke-width="1.25"/>
<path d="M430.72 85.22L422.35 93.81" stroke="#202020" stroke-width="0.95"/>
<circle cx="431.51" cy="84.41" r="1.3" fill="#2460EE"/>
<circle cx="428.20" cy="87.81" r="1.0" fill="#555"/>
<path d="M438.14 77.59L445.67 85.22" stroke="#2B62E8" stroke-width="1.25"/>
<path d="M445.67 85.22L454.15 93.81" stroke="#202020" stroke-width="0.95"/>
<circle cx="444.87" cy="84.41" r="1.3" fill="#2460EE"/>
<circle cx="448.23" cy="87.81" r="1.0" fill="#555"/>
<path d="M469.94 77.59L462.41 69.97" stroke="#2B62E8" stroke-width="1.25"/>
<path d="M462.41 69.97L453.93 61.38" stroke="#202020" stroke-width="0.95"/>
<circle cx="463.21" cy="70.78" r="1.3" fill="#2460EE"/>
<circle cx="459.85" cy="67.38" r="1.0" fill="#555"/>
<path d="M469.94 77.59L477.36 69.97" stroke="#2B62E8" stroke-width="1.25"/>
<path d="M477.36 69.97L485.73 61.38" stroke="#202020" stroke-width="0.95"/>
<circle cx="476.57" cy="70.78" r="1.3" fill="#2460EE"/>
<circle cx="479.89" cy="67.38" r="1.0" fill="#555"/>
<path d="M469.94 77.59L462.52 85.22" stroke="#2B62E8" stroke-width="1.25"/>
<path d="M462.52 85.22L454.15 93.81" stroke="#202020" stroke-width="0.95"/>
<circle cx="463.31" cy="84.41" r="1.3" fill="#2460EE"/>
<circle cx="460.00" cy="87.81" r="1.0" fill="#555"/>
<path d="M469.94 77.59L477.47 85.22" stroke="#2B62E8" stroke-width="1.25"/>
<path d="M477.47 85.22L485.95 93.81" stroke="#202020" stroke-width="0.95"/>
<circle cx="476.67" cy="84.41" r="1.3" fill="#2460EE"/>
<circle cx="480.03" cy="87.81" r="1.0" fill="#555"/>
<path d="M438.37 110.03L430.84 102.40" stroke="#2B62E8" stroke-width="1.25"/>
<path d="M430.84 102.40L422.35 93.81" stroke="#202020" stroke-width="0.95"/>
<circle cx="431.64" cy="103.21" r="1.3" fill="#2460EE"/>
<circle cx="428.28" cy="99.81" r="1.0" fill="#555"/>
<path d="M438.37 110.03L445.79 102.40" stroke="#2B62E8" stroke-width="1.25"/>
<path d="M445.79 102.40L454.15 93.81" stroke="#202020" stroke-width="0.95"/>
<circle cx="445.00" cy="103.21" r="1.3" fill="#2460EE"/>
<circle cx="448.31" cy="99.81" r="1.0" fill="#555"/>
<path d="M438.37 110.03L430.95 117.65" stroke="#2B62E8" stroke-width="1.25"/>
<path d="M430.95 117.65L422.58 126.24" stroke="#202020" stroke-width="0.95"/>
<circle cx="431.74" cy="116.84" r="1.3" fill="#2460EE"/>
<circle cx="428.42" cy="120.24" r="1.0" fill="#555"/>
<path d="M438.37 110.03L445.89 117.65" stroke="#2B62E8" stroke-width="1.25"/>
<path d="M445.89 117.65L454.38 126.24" stroke="#202020" stroke-width="0.95"/>
<circle cx="445.09" cy="116.84" r="1.3" fill="#2460EE"/>
<circle cx="448.46" cy="120.24" r="1.0" fill="#555"/>
<path d="M470.17 110.03L462.64 102.40" stroke="#2B62E8" stroke-width="1.25"/>
<path d="M462.64 102.40L454.15 93.81" stroke="#202020" stroke-width="0.95"/>
<circle cx="463.44" cy="103.21" r="1.3" fill="#2460EE"/>
<circle cx="460.08" cy="99.81" r="1.0" fill="#555"/>
<path d="M470.17 110.03L477.59 102.40" stroke="#2B62E8" stroke-width="1.25"/>
<path d="M477.59 102.40L485.95 93.81" stroke="#202020" stroke-width="0.95"/>
<circle cx="476.80" cy="103.21" r="1.3" fill="#2460EE"/>
<circle cx="480.11" cy="99.81" r="1.0" fill="#555"/>
<path d="M470.17 110.03L462.75 117.65" stroke="#2B62E8" stroke-width="1.25"/>
<path d="M462.75 117.65L454.38 126.24" stroke="#202020" stroke-width="0.95"/>
<circle cx="463.54" cy="116.84" r="1.3" fill="#2460EE"/>
<circle cx="460.22" cy="120.24" r="1.0" fill="#555"/>
<path d="M470.17 110.03L477.69 117.65" stroke="#2B62E8" stroke-width="1.25"/>
<path d="M477.69 117.65L486.18 126.24" stroke="#202020" stroke-width="0.95"/>
<circle cx="476.89" cy="116.84" r="1.3" fill="#2460EE"/>
<circle cx="480.26" cy="120.24" r="1.0" fill="#555"/>
<path d="M438.59 142.45L431.07 134.83" stroke="#2B62E8" stroke-width="1.25"/>
<path d="M431.07 134.83L422.58 126.24" stroke="#202020" stroke-width="0.95"/>
<circle cx="431.87" cy="135.64" r="1.3" fill="#2460EE"/>
<circle cx="428.51" cy="132.24" r="1.0" fill="#555"/>
<path d="M438.59 142.45L446.01 134.83" stroke="#2B62E8" stroke-width="1.25"/>
<path d="M446.01 134.83L454.38 126.24" stroke="#202020" stroke-width="0.95"/>
<circle cx="445.22" cy="135.64" r="1.3" fill="#2460EE"/>
<circle cx="448.54" cy="132.24" r="1.0" fill="#555"/>
<path d="M438.59 142.45L431.17 150.08" stroke="#2B62E8" stroke-width="1.25"/>
<path d="M431.17 150.08L422.81 158.67" stroke="#202020" stroke-width="0.95"/>
<circle cx="431.96" cy="149.27" r="1.3" fill="#2460EE"/>
<circle cx="428.65" cy="152.67" r="1.0" fill="#555"/>
<path d="M438.59 142.45L446.12 150.08" stroke="#2B62E8" stroke-width="1.25"/>
<path d="M446.12 150.08L454.61 158.67" stroke="#202020" stroke-width="0.95"/>
<circle cx="445.32" cy="149.27" r="1.3" fill="#2460EE"/>
<circle cx="448.68" cy="152.67" r="1.0" fill="#555"/>
<path d="M470.39 142.45L462.87 134.83" stroke="#2B62E8" stroke-width="1.25"/>
<path d="M462.87 134.83L454.38 126.24" stroke="#202020" stroke-width="0.95"/>
<circle cx="463.67" cy="135.64" r="1.3" fill="#2460EE"/>
<circle cx="460.31" cy="132.24" r="1.0" fill="#555"/>
<path d="M470.39 142.45L477.81 134.83" stroke="#2B62E8" stroke-width="1.25"/>
<path d="M477.81 134.83L486.18 126.24" stroke="#202020" stroke-width="0.95"/>
<circle cx="477.02" cy="135.64" r="1.3" fill="#2460EE"/>
<circle cx="480.34" cy="132.24" r="1.0" fill="#555"/>
<path d="M470.39 142.45L462.97 150.08" stroke="#2B62E8" stroke-width="1.25"/>
<path d="M462.97 150.08L454.61 158.67" stroke="#202020" stroke-width="0.95"/>
<circle cx="463.76" cy="149.27" r="1.3" fill="#2460EE"/>
<circle cx="460.45" cy="152.67" r="1.0" fill="#555"/>
<path d="M470.39 142.45L477.92 150.08" stroke="#2B62E8" stroke-width="1.25"/>
<path d="M477.92 150.08L486.41 158.67" stroke="#202020" stroke-width="0.95"/>
<circle cx="477.12" cy="149.27" r="1.3" fill="#2460EE"/>
<circle cx="480.48" cy="152.67" r="1.0" fill="#555"/>
<path d="M438.82 174.88L431.30 167.26" stroke="#2B62E8" stroke-width="1.25"/>
<path d="M431.30 167.26L422.81 158.67" stroke="#202020" stroke-width="0.95"/>
<circle cx="432.10" cy="168.07" r="1.3" fill="#2460EE"/>
<circle cx="428.73" cy="164.67" r="1.0" fill="#555"/>
<path d="M438.82 174.88L446.24 167.26" stroke="#2B62E8" stroke-width="1.25"/>
<path d="M446.24 167.26L454.61 158.67" stroke="#202020" stroke-width="0.95"/>
<circle cx="445.45" cy="168.07" r="1.3" fill="#2460EE"/>
<circle cx="448.77" cy="164.67" r="1.0" fill="#555"/>
<path d="M438.82 174.88L431.40 182.51" stroke="#2B62E8" stroke-width="1.25"/>
<path d="M431.40 182.51L423.04 191.10" stroke="#202020" stroke-width="0.95"/>
<circle cx="432.19" cy="181.70" r="1.3" fill="#2460EE"/>
<circle cx="428.88" cy="185.10" r="1.0" fill="#555"/>
<path d="M438.82 174.88L446.35 182.51" stroke="#2B62E8" stroke-width="1.25"/>
<path d="M446.35 182.51L454.84 191.10" stroke="#202020" stroke-width="0.95"/>
<circle cx="445.55" cy="181.70" r="1.3" fill="#2460EE"/>
<circle cx="448.91" cy="185.10" r="1.0" fill="#555"/>
<path d="M470.62 174.88L463.10 167.26" stroke="#2B62E8" stroke-width="1.25"/>
<path d="M463.10 167.26L454.61 158.67" stroke="#202020" stroke-width="0.95"/>
<circle cx="463.90" cy="168.07" r="1.3" fill="#2460EE"/>
<circle cx="460.53" cy="164.67" r="1.0" fill="#555"/>
<path d="M470.62 174.88L478.04 167.26" stroke="#2B62E8" stroke-width="1.25"/>
<path d="M478.04 167.26L486.41 158.67" stroke="#202020" stroke-width="0.95"/>
<circle cx="477.25" cy="168.07" r="1.3" fill="#2460EE"/>
<circle cx="480.57" cy="164.67" r="1.0" fill="#555"/>
<path d="M470.62 174.88L463.20 182.51" stroke="#2B62E8" stroke-width="1.25"/>
<path d="M463.20 182.51L454.84 191.10" stroke="#202020" stroke-width="0.95"/>
<circle cx="463.99" cy="181.70" r="1.3" fill="#2460EE"/>
<circle cx="460.68" cy="185.10" r="1.0" fill="#555"/>
<path d="M470.62 174.88L478.15 182.51" stroke="#2B62E8" stroke-width="1.25"/>
<path d="M478.15 182.51L486.64 191.10" stroke="#202020" stroke-width="0.95"/>
<circle cx="477.35" cy="181.70" r="1.3" fill="#2460EE"/>
<circle cx="480.71" cy="185.10" r="1.0" fill="#555"/>
<path d="M439.05 207.31L431.52 199.69" stroke="#2B62E8" stroke-width="1.25"/>
<path d="M431.52 199.69L423.04 191.10" stroke="#202020" stroke-width="0.95"/>
<circle cx="432.32" cy="200.50" r="1.3" fill="#2460EE"/>
<circle cx="428.96" cy="197.10" r="1.0" fill="#555"/>
<path d="M439.05 207.31L446.47 199.69" stroke="#2B62E8" stroke-width="1.25"/>
<path d="M446.47 199.69L454.84 191.10" stroke="#202020" stroke-width="0.95"/>
<circle cx="445.68" cy="200.50" r="1.3" fill="#2460EE"/>
<circle cx="448.99" cy="197.10" r="1.0" fill="#555"/>
<path d="M439.05 207.31L446.57 214.94" stroke="#2B62E8" stroke-width="1.25"/>
<path d="M446.57 214.94L455.06 223.53" stroke="#202020" stroke-width="0.95"/>
<circle cx="445.77" cy="214.13" r="1.3" fill="#2460EE"/>
<circle cx="449.14" cy="217.53" r="1.0" fill="#555"/>
<path d="M470.85 207.31L463.32 199.69" stroke="#2B62E8" stroke-width="1.25"/>
<path d="M463.32 199.69L454.84 191.10" stroke="#202020" stroke-width="0.95"/>
<circle cx="464.12" cy="200.50" r="1.3" fill="#2460EE"/>
<circle cx="460.76" cy="197.10" r="1.0" fill="#555"/>
<path d="M470.85 207.31L478.27 199.69" stroke="#2B62E8" stroke-width="1.25"/>
<path d="M478.27 199.69L486.64 191.10" stroke="#202020" stroke-width="0.95"/>
<circle cx="477.48" cy="200.50" r="1.3" fill="#2460EE"/>
<circle cx="480.79" cy="197.10" r="1.0" fill="#555"/>
<path d="M470.85 207.31L463.43 214.94" stroke="#2B62E8" stroke-width="1.25"/>
<path d="M463.43 214.94L455.06 223.53" stroke="#202020" stroke-width="0.95"/>
<circle cx="464.22" cy="214.13" r="1.3" fill="#2460EE"/>
<circle cx="460.90" cy="217.53" r="1.0" fill="#555"/>
<circle cx="453.70" cy="28.95" r="1.7" fill="#0a3512"/>
<circle cx="422.13" cy="61.38" r="1.7" fill="#0a3512"/>
<circle cx="453.93" cy="61.38" r="1.7" fill="#0a3512"/>
<circle cx="485.73" cy="61.38" r="1.7" fill="#0a3512"/>
<circle cx="422.35" cy="93.81" r="1.7" fill="#0a3512"/>
<circle cx="454.15" cy="93.81" r="1.7" fill="#0a3512"/>
<circle cx="485.95" cy="93.81" r="1.7" fill="#0a3512"/>
<circle cx="422.58" cy="126.24" r="1.7" fill="#0a3512"/>
<circle cx="454.38" cy="126.24" r="1.7" fill="#0a3512"/>
<circle cx="486.18" cy="126.24" r="1.7" fill="#0a3512"/>
<circle cx="422.81" cy="158.67" r="1.7" fill="#0a3512"/>
<circle cx="454.61" cy="158.67" r="1.7" fill="#0a3512"/>
<circle cx="486.41" cy="158.67" r="1.7" fill="#0a3512"/>
<circle cx="423.04" cy="191.10" r="1.7" fill="#0a3512"/>
<circle cx="454.84" cy="191.10" r="1.7" fill="#0a3512"/>
<circle cx="486.64" cy="191.10" r="1.7" fill="#0a3512"/>
<circle cx="455.06" cy="223.53" r="1.7" fill="#0a3512"/>
<circle cx="437.91" cy="45.16" r="5.0" fill="url(#gO)"/>
<circle cx="469.71" cy="45.16" r="5.0" fill="url(#gO)"/>
<circle cx="438.14" cy="77.59" r="5.0" fill="url(#gO)"/>
<circle cx="469.94" cy="77.59" r="5.0" fill="url(#gO)"/>
<circle cx="438.37" cy="110.03" r="5.0" fill="url(#gO)"/>
<circle cx="470.17" cy="110.03" r="5.0" fill="url(#gO)"/>
<circle cx="438.59" cy="142.45" r="5.0" fill="url(#gO)"/>
<circle cx="470.39" cy="142.45" r="5.0" fill="url(#gO)"/>
<circle cx="438.82" cy="174.88" r="5.0" fill="url(#gO)"/>
<circle cx="470.62" cy="174.88" r="5.0" fill="url(#gO)"/>
<circle cx="439.05" cy="207.31" r="5.0" fill="url(#gO)"/>
<circle cx="470.85" cy="207.31" r="5.0" fill="url(#gO)"/>
<g stroke="#000" stroke-width="2.05" fill="none" stroke-linecap="butt">
<path d="M75.9 1.6L75.9 364.825M74.875 363.8L527.025 363.8M526.0 364.825L526.0 1.6"/>
<path d="M74.875 1.6L527.025 1.6" stroke-width="1.6" stroke="#0a0a0a"/>
</g>
<g stroke="#000" stroke-width="1.9" fill="none">
<path d="M526.0 306.8h-6.9"/>
<path d="M526.0 210.9h-6.9"/>
<path d="M526.0 115.0h-6.9"/>
<path d="M526.0 19.1h-6.9"/>
<path d="M526.0 354.8h-4"/>
<path d="M526.0 258.9h-4"/>
<path d="M526.0 162.9h-4"/>
<path d="M526.0 67.0h-4"/>
</g>
<g font-family='"Liberation Sans", sans-serif' font-size="20.5" fill="#000" style="filter:grayscale(1)">
<text transform="translate(67.9 370.2) scale(1 1.045)" text-anchor="end">1.0</text>
<text transform="translate(67.9 303.0) scale(1 1.045)" text-anchor="end">1.5</text>
<text transform="translate(67.9 235.9) scale(1 1.045)" text-anchor="end">2.0</text>
<text transform="translate(67.9 168.8) scale(1 1.045)" text-anchor="end">2.5</text>
<text transform="translate(67.9 101.6) scale(1 1.045)" text-anchor="end">3.0</text>
<text transform="translate(67.9 34.5) scale(1 1.045)" text-anchor="end">3.5</text>
<text transform="translate(533.8 313.2) scale(1 1.045)" text-anchor="start">0.4</text>
<text transform="translate(533.8 217.3) scale(1 1.045)" text-anchor="start">0.6</text>
<text transform="translate(533.8 121.4) scale(1 1.045)" text-anchor="start">0.8</text>
<text transform="translate(533.8 25.5) scale(1 1.045)" text-anchor="start">1.0</text>
<text transform="translate(75.4 387.9) scale(1 1.045)" text-anchor="middle">50</text>
<text transform="translate(187.9 387.9) scale(1 1.045)" text-anchor="middle">100</text>
<text transform="translate(300.5 387.9) scale(1 1.045)" text-anchor="middle">150</text>
<text transform="translate(413.0 387.9) scale(1 1.045)" text-anchor="middle">200</text>
<text transform="translate(525.5 387.9) scale(1 1.045)" text-anchor="middle">250</text>
</g>
<text x="93.6" y="40.9" font-family='"Liberation Serif", "Noto Serif CJK SC", serif' font-size="36.4" font-weight="bold" fill="#C80508" textLength="214.5" lengthAdjust="spacing">离散型孔结构</text>
<g transform="translate(22.0 272.8) rotate(-90)" font-family='"Liberation Sans", sans-serif' fill="#000">
<text transform="translate(-0.10 0.00) skewX(-12)" font-size="24">χ</text>
<text x="11.44" y="7.60" font-size="14.5">M</text>
<text x="25.30" y="0.00" font-size="24" font-style="italic">T</text>
<text x="45.80" y="0.00" font-size="24">/</text>
<text x="58.20" y="0.00" font-size="24">cm</text>
<text x="91.10" y="-8.60" font-size="14">3</text>
<text x="104.00" y="0.00" font-size="24">K</text>
<text x="126.30" y="0.00" font-size="24">mol</text>
<text x="165.60" y="-9.60" font-size="14">-1</text>
</g>
<g transform="translate(600.4 304.8) rotate(-90)" font-family='"Liberation Sans", sans-serif' fill="#000">
<text x="0.00" y="0.00" font-size="21">γ</text>
<text x="10.05" y="7.50" font-size="14">HS</text>
<text x="36.40" y="0.00" font-size="24.2">(HS molar fraction)</text>
</g>
<text x="301.6" y="425.4" text-anchor="middle" font-family='"Liberation Sans", sans-serif' font-size="24" fill="#000" style="filter:grayscale(1)"><tspan font-style="italic">T</tspan> / K</text>
<clipPath id="clipR"><rect x="735.1" y="1.0" width="450.4999999999999" height="361.8"/></clipPath>
<g stroke="#000" stroke-width="1.9" fill="none">
<path d="M735.1 362.8h6.8"/>
<path d="M735.1 313.8h6.8"/>
<path d="M735.1 264.9h6.8"/>
<path d="M735.1 215.9h6.8"/>
<path d="M735.1 166.9h6.8"/>
<path d="M735.1 118.0h6.8"/>
<path d="M735.1 69.0h6.8"/>
<path d="M735.1 20.0h6.8"/>
<path d="M735.1 338.3h4"/>
<path d="M735.1 289.3h4"/>
<path d="M735.1 240.4h4"/>
<path d="M735.1 191.4h4"/>
<path d="M735.1 142.4h4"/>
<path d="M735.1 93.5h4"/>
<path d="M735.1 44.5h4"/>
<path d="M735.1 362.8v-6.8"/>
<path d="M847.7 362.8v-6.8"/>
<path d="M960.3 362.8v-6.8"/>
<path d="M1073.0 362.8v-6.8"/>
<path d="M1185.6 362.8v-6.8"/>
<path d="M791.4 362.8v-4"/>
<path d="M904.0 362.8v-4"/>
<path d="M1016.7 362.8v-4"/>
<path d="M1129.3 362.8v-4"/>
</g>
<g clip-path="url(#clipR)">
<path d="M736.3000000000001 189.0H1185.6" stroke="#FF4A55" stroke-width="2.7" stroke-dasharray="2.7 2.66" fill="none"/>
<path d="M856.10 281.40L859.10 268.38M1060.22 165.78L1061.88 157.52M1063.49 144.36L1064.91 112.14M1065.77 98.87L1066.93 85.23M1067.93 71.96L1069.07 54.04M1070.49 40.82L1070.61 39.98" stroke="#0019BE" stroke-width="1.8" fill="none"/>
<g fill="#0019BE">
<circle cx="735.5" cy="347.2" r="5.25"/>
<circle cx="737.8" cy="347.1" r="5.25"/>
<circle cx="740.0" cy="347.0" r="5.25"/>
<circle cx="742.2" cy="347.0" r="5.25"/>
<circle cx="744.5" cy="346.9" r="5.25"/>
<circle cx="746.8" cy="346.8" r="5.25"/>
<circle cx="749.0" cy="346.8" r="5.25"/>
<circle cx="751.2" cy="346.7" r="5.25"/>
<circle cx="753.5" cy="346.6" r="5.25"/>
<circle cx="755.8" cy="346.5" r="5.25"/>
<circle cx="758.0" cy="346.5" r="5.25"/>
<circle cx="760.2" cy="346.4" r="5.25"/>
<circle cx="762.5" cy="346.3" r="5.25"/>
<circle cx="764.8" cy="346.1" r="5.25"/>
<circle cx="767.0" cy="346.0" r="5.25"/>
<circle cx="769.2" cy="345.8" r="5.25"/>
<circle cx="771.5" cy="345.7" r="5.25"/>
<circle cx="773.8" cy="345.5" r="5.25"/>
<circle cx="776.0" cy="345.4" r="5.25"/>
<circle cx="778.2" cy="345.2" r="5.25"/>
<circle cx="780.5" cy="345.1" r="5.25"/>
<circle cx="782.8" cy="344.9" r="5.25"/>
<circle cx="785.0" cy="344.6" r="5.25"/>
<circle cx="787.2" cy="344.3" r="5.25"/>
<circle cx="789.5" cy="343.9" r="5.25"/>
<circle cx="791.8" cy="343.5" r="5.25"/>
<circle cx="794.0" cy="343.1" r="5.25"/>
<circle cx="796.2" cy="342.8" r="5.25"/>
<circle cx="798.5" cy="342.4" r="5.25"/>
<circle cx="800.8" cy="342.0" r="5.25"/>
<circle cx="803.0" cy="341.6" r="5.25"/>
<circle cx="805.2" cy="341.3" r="5.25"/>
<circle cx="807.5" cy="340.7" r="5.25"/>
<circle cx="809.8" cy="339.9" r="5.25"/>
<circle cx="812.0" cy="339.1" r="5.25"/>
<circle cx="814.2" cy="338.3" r="5.25"/>
<circle cx="816.5" cy="337.5" r="5.25"/>
<circle cx="818.8" cy="336.7" r="5.25"/>
<circle cx="821.0" cy="335.9" r="5.25"/>
<circle cx="823.2" cy="334.6" r="5.25"/>
<circle cx="825.5" cy="333.3" r="5.25"/>
<circle cx="827.8" cy="331.9" r="5.25"/>
<circle cx="830.0" cy="330.6" r="5.25"/>
<circle cx="832.2" cy="329.2" r="5.25"/>
<circle cx="834.5" cy="327.8" r="5.25"/>
<circle cx="836.8" cy="326.3" r="5.25"/>
<circle cx="839.0" cy="324.2" r="5.25"/>
<circle cx="841.2" cy="321.8" r="5.25"/>
<circle cx="843.5" cy="318.6" r="5.25"/>
<circle cx="845.8" cy="310.5" r="5.25"/>
<circle cx="846.9" cy="308.0" r="5.25"/>
<circle cx="848.0" cy="305.6" r="5.25"/>
<circle cx="849.1" cy="303.1" r="5.25"/>
<circle cx="850.2" cy="300.1" r="5.25"/>
<circle cx="851.3" cy="296.9" r="5.25"/>
<circle cx="852.4" cy="293.9" r="5.25"/>
<circle cx="853.5" cy="291.2" r="5.25"/>
<circle cx="854.6" cy="287.9" r="5.25"/>
<circle cx="860.6" cy="261.9" r="5.25"/>
<circle cx="862.2" cy="248.4" r="5.25"/>
<circle cx="864.4" cy="235.4" r="5.25"/>
<circle cx="866.9" cy="225.8" r="5.25"/>
<circle cx="868.9" cy="217.8" r="5.25"/>
<circle cx="871.0" cy="210.3" r="5.25"/>
<circle cx="873.2" cy="205.2" r="5.25"/>
<circle cx="876.5" cy="200.2" r="5.25"/>
<circle cx="880.3" cy="197.2" r="5.25"/>
<circle cx="884.0" cy="195.2" r="5.25"/>
<circle cx="886.5" cy="194.3" r="5.25"/>
<circle cx="888.8" cy="193.5" r="5.25"/>
<circle cx="891.0" cy="192.8" r="5.25"/>
<circle cx="893.2" cy="192.4" r="5.25"/>
<circle cx="895.5" cy="192.1" r="5.25"/>
<circle cx="897.8" cy="191.7" r="5.25"/>
<circle cx="900.0" cy="191.3" r="5.25"/>
<circle cx="902.2" cy="191.1" r="5.25"/>
<circle cx="904.5" cy="190.9" r="5.25"/>
<circle cx="906.8" cy="190.6" r="5.25"/>
<circle cx="909.0" cy="190.4" r="5.25"/>
<circle cx="911.2" cy="190.2" r="5.25"/>
<circle cx="913.5" cy="190.0" r="5.25"/>
<circle cx="915.8" cy="189.8" r="5.25"/>
<circle cx="918.0" cy="189.5" r="5.25"/>
<circle cx="920.2" cy="189.3" r="5.25"/>
<circle cx="922.5" cy="189.1" r="5.25"/>
<circle cx="924.8" cy="188.8" r="5.25"/>
<circle cx="927.0" cy="188.6" r="5.25"/>
<circle cx="929.2" cy="188.3" r="5.25"/>
<circle cx="931.5" cy="188.1" r="5.25"/>
<circle cx="933.8" cy="187.8" r="5.25"/>
<circle cx="936.0" cy="187.6" r="5.25"/>
<circle cx="938.2" cy="187.3" r="5.25"/>
<circle cx="940.5" cy="187.1" r="5.25"/>
<circle cx="942.8" cy="186.8" r="5.25"/>
<circle cx="945.0" cy="186.6" r="5.25"/>
<circle cx="947.2" cy="186.4" r="5.25"/>
<circle cx="949.5" cy="186.2" r="5.25"/>
<circle cx="951.8" cy="186.0" r="5.25"/>
<circle cx="954.0" cy="185.8" r="5.25"/>
<circle cx="956.2" cy="185.7" r="5.25"/>
<circle cx="958.5" cy="185.5" r="5.25"/>
<circle cx="960.8" cy="185.3" r="5.25"/>
<circle cx="963.0" cy="185.1" r="5.25"/>
<circle cx="965.2" cy="185.0" r="5.25"/>
<circle cx="967.5" cy="184.8" r="5.25"/>
<circle cx="969.8" cy="184.6" r="5.25"/>
<circle cx="972.0" cy="184.4" r="5.25"/>
<circle cx="974.2" cy="184.3" r="5.25"/>
<circle cx="976.5" cy="184.1" r="5.25"/>
<circle cx="978.8" cy="184.0" r="5.25"/>
<circle cx="981.0" cy="183.9" r="5.25"/>
<circle cx="983.2" cy="183.7" r="5.25"/>
<circle cx="985.5" cy="183.6" r="5.25"/>
<circle cx="987.8" cy="183.4" r="5.25"/>
<circle cx="990.0" cy="183.3" r="5.25"/>
<circle cx="992.2" cy="183.2" r="5.25"/>
<circle cx="994.5" cy="183.0" r="5.25"/>
<circle cx="996.8" cy="182.9" r="5.25"/>
<circle cx="999.0" cy="182.8" r="5.25"/>
<circle cx="1001.2" cy="182.6" r="5.25"/>
<circle cx="1003.5" cy="182.5" r="5.25"/>
<circle cx="1005.8" cy="182.4" r="5.25"/>
<circle cx="1008.0" cy="182.3" r="5.25"/>
<circle cx="1010.2" cy="182.1" r="5.25"/>
<circle cx="1012.5" cy="182.0" r="5.25"/>
<circle cx="1014.8" cy="181.9" r="5.25"/>
<circle cx="1017.0" cy="181.8" r="5.25"/>
<circle cx="1019.2" cy="181.7" r="5.25"/>
<circle cx="1021.5" cy="181.6" r="5.25"/>
<circle cx="1023.8" cy="181.4" r="5.25"/>
<circle cx="1026.0" cy="181.3" r="5.25"/>
<circle cx="1028.2" cy="181.2" r="5.25"/>
<circle cx="1030.5" cy="181.1" r="5.25"/>
<circle cx="1032.8" cy="180.9" r="5.25"/>
<circle cx="1035.0" cy="180.8" r="5.25"/>
<circle cx="1037.2" cy="180.6" r="5.25"/>
<circle cx="1039.5" cy="180.4" r="5.25"/>
<circle cx="1041.8" cy="180.2" r="5.25"/>
<circle cx="1044.0" cy="180.1" r="5.25"/>
<circle cx="1046.2" cy="179.9" r="5.25"/>
<circle cx="1048.5" cy="179.1" r="5.25"/>
<circle cx="1050.8" cy="178.4" r="5.25"/>
<circle cx="1053.0" cy="177.6" r="5.25"/>
<circle cx="1055.2" cy="175.5" r="5.25"/>
<circle cx="1058.9" cy="172.3" r="5.25"/>
<circle cx="1063.2" cy="151.0" r="5.25"/>
<circle cx="1065.2" cy="105.5" r="5.25"/>
<circle cx="1067.5" cy="78.6" r="5.25"/>
<circle cx="1069.5" cy="47.4" r="5.25"/>
<circle cx="1071.6" cy="33.4" r="5.25"/>
<circle cx="1072.9" cy="23.5" r="5.25"/>
<circle cx="1075.2" cy="21.8" r="5.25"/>
<circle cx="1077.4" cy="20.1" r="5.25"/>
<circle cx="1079.7" cy="19.2" r="5.25"/>
<circle cx="1081.9" cy="18.6" r="5.25"/>
<circle cx="1084.2" cy="18.1" r="5.25"/>
<circle cx="1086.4" cy="17.5" r="5.25"/>
<circle cx="1088.7" cy="17.0" r="5.25"/>
<circle cx="1090.9" cy="16.7" r="5.25"/>
<circle cx="1093.2" cy="16.4" r="5.25"/>
<circle cx="1095.4" cy="16.2" r="5.25"/>
<circle cx="1097.7" cy="16.0" r="5.25"/>
<circle cx="1099.9" cy="15.8" r="5.25"/>
<circle cx="1102.2" cy="15.7" r="5.25"/>
<circle cx="1104.4" cy="15.7" r="5.25"/>
<circle cx="1106.7" cy="15.6" r="5.25"/>
<circle cx="1108.9" cy="15.5" r="5.25"/>
<circle cx="1111.2" cy="15.5" r="5.25"/>
<circle cx="1113.4" cy="15.4" r="5.25"/>
<circle cx="1115.7" cy="15.3" r="5.25"/>
<circle cx="1117.9" cy="15.3" r="5.25"/>
<circle cx="1120.2" cy="15.2" r="5.25"/>
<circle cx="1122.4" cy="15.2" r="5.25"/>
<circle cx="1124.7" cy="15.2" r="5.25"/>
<circle cx="1126.9" cy="15.2" r="5.25"/>
<circle cx="1129.2" cy="15.1" r="5.25"/>
<circle cx="1131.4" cy="15.1" r="5.25"/>
<circle cx="1133.7" cy="15.1" r="5.25"/>
<circle cx="1135.9" cy="15.1" r="5.25"/>
<circle cx="1138.2" cy="15.1" r="5.25"/>
<circle cx="1140.4" cy="15.1" r="5.25"/>
<circle cx="1142.7" cy="15.1" r="5.25"/>
<circle cx="1144.9" cy="15.1" r="5.25"/>
<circle cx="1147.2" cy="15.0" r="5.25"/>
<circle cx="1149.4" cy="15.0" r="5.25"/>
<circle cx="1151.7" cy="15.0" r="5.25"/>
<circle cx="1153.9" cy="15.0" r="5.25"/>
<circle cx="1156.2" cy="15.0" r="5.25"/>
<circle cx="1158.4" cy="15.0" r="5.25"/>
<circle cx="1160.7" cy="15.0" r="5.25"/>
<circle cx="1162.9" cy="14.9" r="5.25"/>
<circle cx="1165.2" cy="14.9" r="5.25"/>
<circle cx="1167.4" cy="14.9" r="5.25"/>
<circle cx="1169.7" cy="14.9" r="5.25"/>
<circle cx="1171.9" cy="14.9" r="5.25"/>
<circle cx="1174.2" cy="14.9" r="5.25"/>
<circle cx="1176.4" cy="14.9" r="5.25"/>
<circle cx="1178.7" cy="14.9" r="5.25"/>
<circle cx="1180.9" cy="14.8" r="5.25"/>
<circle cx="1183.2" cy="14.8" r="5.25"/>
<circle cx="1185.4" cy="14.8" r="5.25"/>
</g>
<path d="M1080.92 142.38L1081.68 134.22M1082.82 120.97L1084.48 100.03M1085.31 86.76L1086.79 54.34M1087.61 41.07L1088.49 29.43" stroke="#0019BE" stroke-width="1.8" fill="none"/>
<g fill="#0019BE">
<circle cx="736.5" cy="346.9" r="5.25"/>
<circle cx="738.8" cy="346.9" r="5.25"/>
<circle cx="741.0" cy="346.9" r="5.25"/>
<circle cx="743.2" cy="346.8" r="5.25"/>
<circle cx="745.5" cy="346.8" r="5.25"/>
<circle cx="747.8" cy="346.8" r="5.25"/>
<circle cx="750.0" cy="346.8" r="5.25"/>
<circle cx="752.2" cy="346.8" r="5.25"/>
<circle cx="754.5" cy="346.7" r="5.25"/>
<circle cx="756.8" cy="346.7" r="5.25"/>
<circle cx="759.0" cy="346.7" r="5.25"/>
<circle cx="761.2" cy="346.7" r="5.25"/>
<circle cx="763.5" cy="346.7" r="5.25"/>
<circle cx="765.8" cy="346.6" r="5.25"/>
<circle cx="768.0" cy="346.6" r="5.25"/>
<circle cx="770.2" cy="346.6" r="5.25"/>
<circle cx="772.5" cy="346.5" r="5.25"/>
<circle cx="774.8" cy="346.5" r="5.25"/>
<circle cx="777.0" cy="346.5" r="5.25"/>
<circle cx="779.2" cy="346.5" r="5.25"/>
<circle cx="781.5" cy="346.4" r="5.25"/>
<circle cx="783.8" cy="346.4" r="5.25"/>
<circle cx="786.0" cy="346.3" r="5.25"/>
<circle cx="788.2" cy="346.2" r="5.25"/>
<circle cx="790.5" cy="346.1" r="5.25"/>
<circle cx="792.8" cy="346.0" r="5.25"/>
<circle cx="795.0" cy="345.9" r="5.25"/>
<circle cx="797.2" cy="345.9" r="5.25"/>
<circle cx="799.5" cy="345.8" r="5.25"/>
<circle cx="801.8" cy="345.7" r="5.25"/>
<circle cx="804.0" cy="345.6" r="5.25"/>
<circle cx="806.2" cy="345.5" r="5.25"/>
<circle cx="808.5" cy="345.2" r="5.25"/>
<circle cx="810.8" cy="344.9" r="5.25"/>
<circle cx="813.0" cy="344.5" r="5.25"/>
<circle cx="815.2" cy="344.2" r="5.25"/>
<circle cx="817.5" cy="343.9" r="5.25"/>
<circle cx="819.8" cy="343.6" r="5.25"/>
<circle cx="822.0" cy="343.1" r="5.25"/>
<circle cx="824.2" cy="342.2" r="5.25"/>
<circle cx="826.5" cy="341.4" r="5.25"/>
<circle cx="828.8" cy="340.5" r="5.25"/>
<circle cx="831.0" cy="339.6" r="5.25"/>
<circle cx="833.2" cy="338.6" r="5.25"/>
<circle cx="835.5" cy="337.6" r="5.25"/>
<circle cx="837.8" cy="336.2" r="5.25"/>
<circle cx="840.0" cy="334.5" r="5.25"/>
<circle cx="842.2" cy="332.7" r="5.25"/>
<circle cx="844.5" cy="330.9" r="5.25"/>
<circle cx="846.8" cy="328.8" r="5.25"/>
<circle cx="849.0" cy="326.8" r="5.25"/>
<circle cx="851.2" cy="324.7" r="5.25"/>
<circle cx="860.6" cy="316.3" r="5.25"/>
<circle cx="862.2" cy="313.8" r="5.25"/>
<circle cx="863.8" cy="311.3" r="5.25"/>
<circle cx="865.4" cy="308.8" r="5.25"/>
<circle cx="867.0" cy="306.3" r="5.25"/>
<circle cx="868.6" cy="303.6" r="5.25"/>
<circle cx="870.2" cy="300.8" r="5.25"/>
<circle cx="871.8" cy="298.0" r="5.25"/>
<circle cx="873.4" cy="295.0" r="5.25"/>
<circle cx="875.0" cy="291.9" r="5.25"/>
<circle cx="876.6" cy="288.5" r="5.25"/>
<circle cx="878.2" cy="284.6" r="5.25"/>
<circle cx="879.8" cy="280.7" r="5.25"/>
<circle cx="881.4" cy="277.0" r="5.25"/>
<circle cx="883.0" cy="273.3" r="5.25"/>
<circle cx="884.0" cy="265.5" r="5.25"/>
<circle cx="887.3" cy="258.0" r="5.25"/>
<circle cx="889.5" cy="250.5" r="5.25"/>
<circle cx="891.6" cy="242.9" r="5.25"/>
<circle cx="893.3" cy="234.9" r="5.25"/>
<circle cx="895.3" cy="226.6" r="5.25"/>
<circle cx="897.3" cy="218.3" r="5.25"/>
<circle cx="900.4" cy="209.0" r="5.25"/>
<circle cx="902.9" cy="201.5" r="5.25"/>
<circle cx="905.4" cy="196.4" r="5.25"/>
<circle cx="908.0" cy="193.5" r="5.25"/>
<circle cx="912.0" cy="191.6" r="5.25"/>
<circle cx="914.2" cy="191.0" r="5.25"/>
<circle cx="916.5" cy="190.5" r="5.25"/>
<circle cx="918.7" cy="190.0" r="5.25"/>
<circle cx="921.0" cy="189.7" r="5.25"/>
<circle cx="923.2" cy="189.5" r="5.25"/>
<circle cx="925.5" cy="189.2" r="5.25"/>
<circle cx="927.7" cy="189.0" r="5.25"/>
<circle cx="930.0" cy="188.7" r="5.25"/>
<circle cx="932.2" cy="188.4" r="5.25"/>
<circle cx="934.5" cy="188.2" r="5.25"/>
<circle cx="936.7" cy="187.9" r="5.25"/>
<circle cx="939.0" cy="187.7" r="5.25"/>
<circle cx="941.2" cy="187.4" r="5.25"/>
<circle cx="943.5" cy="187.2" r="5.25"/>
<circle cx="945.7" cy="186.9" r="5.25"/>
<circle cx="948.0" cy="186.7" r="5.25"/>
<circle cx="950.2" cy="186.5" r="5.25"/>
<circle cx="952.5" cy="186.4" r="5.25"/>
<circle cx="954.7" cy="186.2" r="5.25"/>
<circle cx="957.0" cy="186.0" r="5.25"/>
<circle cx="959.2" cy="185.8" r="5.25"/>
<circle cx="961.5" cy="185.7" r="5.25"/>
<circle cx="963.7" cy="185.5" r="5.25"/>
<circle cx="966.0" cy="185.3" r="5.25"/>
<circle cx="968.2" cy="185.1" r="5.25"/>
<circle cx="970.5" cy="185.0" r="5.25"/>
<circle cx="972.7" cy="184.8" r="5.25"/>
<circle cx="975.0" cy="184.6" r="5.25"/>
<circle cx="977.2" cy="184.5" r="5.25"/>
<circle cx="979.5" cy="184.3" r="5.25"/>
<circle cx="981.7" cy="184.2" r="5.25"/>
<circle cx="984.0" cy="184.1" r="5.25"/>
<circle cx="986.2" cy="183.9" r="5.25"/>
<circle cx="988.5" cy="183.8" r="5.25"/>
<circle cx="990.7" cy="183.7" r="5.25"/>
<circle cx="993.0" cy="183.5" r="5.25"/>
<circle cx="995.2" cy="183.4" r="5.25"/>
<circle cx="997.5" cy="183.3" r="5.25"/>
<circle cx="999.7" cy="183.1" r="5.25"/>
<circle cx="1002.0" cy="183.0" r="5.25"/>
<circle cx="1004.2" cy="182.9" r="5.25"/>
<circle cx="1006.5" cy="182.7" r="5.25"/>
<circle cx="1008.7" cy="182.6" r="5.25"/>
<circle cx="1011.0" cy="182.5" r="5.25"/>
<circle cx="1013.2" cy="182.4" r="5.25"/>
<circle cx="1015.5" cy="182.3" r="5.25"/>
<circle cx="1017.7" cy="182.2" r="5.25"/>
<circle cx="1020.0" cy="182.0" r="5.25"/>
<circle cx="1022.2" cy="181.9" r="5.25"/>
<circle cx="1024.5" cy="181.8" r="5.25"/>
<circle cx="1026.7" cy="181.7" r="5.25"/>
<circle cx="1029.0" cy="181.6" r="5.25"/>
<circle cx="1031.2" cy="181.4" r="5.25"/>
<circle cx="1033.5" cy="181.3" r="5.25"/>
<circle cx="1035.7" cy="181.1" r="5.25"/>
<circle cx="1038.0" cy="180.9" r="5.25"/>
<circle cx="1040.2" cy="180.8" r="5.25"/>
<circle cx="1042.5" cy="180.6" r="5.25"/>
<circle cx="1044.7" cy="180.4" r="5.25"/>
<circle cx="1047.0" cy="180.2" r="5.25"/>
<circle cx="1049.2" cy="179.8" r="5.25"/>
<circle cx="1051.5" cy="179.4" r="5.25"/>
<circle cx="1053.7" cy="179.0" r="5.25"/>
<circle cx="1056.0" cy="178.6" r="5.25"/>
<circle cx="1058.2" cy="178.1" r="5.25"/>
<circle cx="1060.5" cy="177.5" r="5.25"/>
<circle cx="1062.7" cy="176.9" r="5.25"/>
<circle cx="1065.0" cy="176.3" r="5.25"/>
<circle cx="1067.2" cy="175.5" r="5.25"/>
<circle cx="1069.5" cy="174.5" r="5.25"/>
<circle cx="1072.8" cy="171.3" r="5.25"/>
<circle cx="1075.4" cy="167.4" r="5.25"/>
<circle cx="1077.7" cy="161.6" r="5.25"/>
<circle cx="1080.3" cy="149.0" r="5.25"/>
<circle cx="1082.3" cy="127.6" r="5.25"/>
<circle cx="1085.0" cy="93.4" r="5.25"/>
<circle cx="1087.1" cy="47.7" r="5.25"/>
<circle cx="1089.0" cy="22.8" r="5.25"/>
<circle cx="1091.2" cy="21.9" r="5.25"/>
<circle cx="1093.5" cy="21.4" r="5.25"/>
<circle cx="1095.8" cy="21.1" r="5.25"/>
<circle cx="1098.0" cy="20.9" r="5.25"/>
<circle cx="1100.2" cy="20.6" r="5.25"/>
<circle cx="1102.5" cy="20.5" r="5.25"/>
<circle cx="1104.8" cy="20.4" r="5.25"/>
<circle cx="1107.0" cy="20.3" r="5.25"/>
<circle cx="1109.2" cy="20.2" r="5.25"/>
<circle cx="1111.5" cy="20.1" r="5.25"/>
<circle cx="1113.8" cy="20.1" r="5.25"/>
<circle cx="1116.0" cy="20.0" r="5.25"/>
<circle cx="1118.2" cy="19.9" r="5.25"/>
<circle cx="1120.5" cy="19.8" r="5.25"/>
<circle cx="1122.8" cy="19.8" r="5.25"/>
<circle cx="1125.0" cy="19.8" r="5.25"/>
<circle cx="1127.2" cy="19.8" r="5.25"/>
<circle cx="1129.5" cy="19.7" r="5.25"/>
<circle cx="1131.8" cy="19.7" r="5.25"/>
<circle cx="1134.0" cy="19.7" r="5.25"/>
<circle cx="1136.2" cy="19.7" r="5.25"/>
<circle cx="1138.5" cy="19.7" r="5.25"/>
<circle cx="1140.8" cy="19.7" r="5.25"/>
<circle cx="1143.0" cy="19.7" r="5.25"/>
<circle cx="1145.2" cy="19.7" r="5.25"/>
<circle cx="1147.5" cy="19.6" r="5.25"/>
<circle cx="1149.8" cy="19.6" r="5.25"/>
<circle cx="1152.0" cy="19.6" r="5.25"/>
<circle cx="1154.2" cy="19.6" r="5.25"/>
<circle cx="1156.5" cy="19.6" r="5.25"/>
<circle cx="1158.8" cy="19.6" r="5.25"/>
<circle cx="1161.0" cy="19.6" r="5.25"/>
<circle cx="1163.2" cy="19.5" r="5.25"/>
<circle cx="1165.5" cy="19.5" r="5.25"/>
<circle cx="1167.8" cy="19.5" r="5.25"/>
<circle cx="1170.0" cy="19.5" r="5.25"/>
<circle cx="1172.2" cy="19.5" r="5.25"/>
<circle cx="1174.5" cy="19.5" r="5.25"/>
<circle cx="1176.8" cy="19.5" r="5.25"/>
<circle cx="1179.0" cy="19.5" r="5.25"/>
<circle cx="1181.2" cy="19.4" r="5.25"/>
<circle cx="1183.5" cy="19.4" r="5.25"/>
<circle cx="1185.8" cy="19.4" r="5.25"/>
</g>
<path d="M736.3000000000001 189.0H1185.6" stroke="#FF4A55" stroke-width="2.7" stroke-dasharray="2.7 2.66" fill="none" opacity="0.6"/>
</g>
<path d="M762.33 211.59L770.44 203.06" stroke="#2B62E8" stroke-width="1.25"/>
<path d="M770.44 203.06L779.60 193.45" stroke="#202020" stroke-width="0.95"/>
<circle cx="769.58" cy="203.97" r="1.3" fill="#2460EE"/>
<circle cx="773.21" cy="200.16" r="1.0" fill="#555"/>
<path d="M762.33 211.59L754.21 220.11" stroke="#2B62E8" stroke-width="1.25"/>
<path d="M754.21 220.11L745.05 229.72" stroke="#202020" stroke-width="0.95"/>
<circle cx="755.07" cy="219.20" r="1.3" fill="#2460EE"/>
<circle cx="751.44" cy="223.01" r="1.0" fill="#555"/>
<path d="M762.33 211.59L770.89 219.93" stroke="#2B62E8" stroke-width="1.25"/>
<path d="M770.89 219.93L780.55 229.33" stroke="#202020" stroke-width="0.95"/>
<circle cx="769.98" cy="219.04" r="1.3" fill="#2460EE"/>
<circle cx="773.81" cy="222.76" r="1.0" fill="#555"/>
<path d="M797.83 211.19L789.26 202.85" stroke="#2B62E8" stroke-width="1.25"/>
<path d="M789.26 202.85L779.60 193.45" stroke="#202020" stroke-width="0.95"/>
<circle cx="790.17" cy="203.74" r="1.3" fill="#2460EE"/>
<circle cx="786.34" cy="200.02" r="1.0" fill="#555"/>
<path d="M797.83 211.19L789.71 219.72" stroke="#2B62E8" stroke-width="1.25"/>
<path d="M789.71 219.72L780.55 229.33" stroke="#202020" stroke-width="0.95"/>
<circle cx="790.57" cy="218.81" r="1.3" fill="#2460EE"/>
<circle cx="786.94" cy="222.62" r="1.0" fill="#555"/>
<path d="M797.83 211.19L806.39 219.53" stroke="#2B62E8" stroke-width="1.25"/>
<path d="M806.39 219.53L816.05 228.94" stroke="#202020" stroke-width="0.95"/>
<circle cx="805.48" cy="218.65" r="1.3" fill="#2460EE"/>
<circle cx="809.31" cy="222.37" r="1.0" fill="#555"/>
<path d="M763.28 247.47L754.71 239.13" stroke="#2B62E8" stroke-width="1.25"/>
<path d="M754.71 239.13L745.05 229.72" stroke="#202020" stroke-width="0.95"/>
<circle cx="755.62" cy="240.01" r="1.3" fill="#2460EE"/>
<circle cx="751.79" cy="236.29" r="1.0" fill="#555"/>
<path d="M763.28 247.47L771.40 238.94" stroke="#2B62E8" stroke-width="1.25"/>
<path d="M771.40 238.94L780.55 229.33" stroke="#202020" stroke-width="0.95"/>
<circle cx="770.53" cy="239.85" r="1.3" fill="#2460EE"/>
<circle cx="774.16" cy="236.04" r="1.0" fill="#555"/>
<path d="M763.28 247.47L755.16 255.99" stroke="#2B62E8" stroke-width="1.25"/>
<path d="M755.16 255.99L746.00 265.60" stroke="#202020" stroke-width="0.95"/>
<circle cx="756.02" cy="255.08" r="1.3" fill="#2460EE"/>
<circle cx="752.39" cy="258.89" r="1.0" fill="#555"/>
<path d="M763.28 247.47L771.84 255.81" stroke="#2B62E8" stroke-width="1.25"/>
<path d="M771.84 255.81L781.50 265.21" stroke="#202020" stroke-width="0.95"/>
<circle cx="770.93" cy="254.92" r="1.3" fill="#2460EE"/>
<circle cx="774.76" cy="258.64" r="1.0" fill="#555"/>
<path d="M798.78 247.07L790.21 238.73" stroke="#2B62E8" stroke-width="1.25"/>
<path d="M790.21 238.73L780.55 229.33" stroke="#202020" stroke-width="0.95"/>
<circle cx="791.12" cy="239.62" r="1.3" fill="#2460EE"/>
<circle cx="787.29" cy="235.90" r="1.0" fill="#555"/>
<path d="M798.78 247.07L806.90 238.55" stroke="#2B62E8" stroke-width="1.25"/>
<path d="M806.90 238.55L816.05 228.94" stroke="#202020" stroke-width="0.95"/>
<circle cx="806.03" cy="239.46" r="1.3" fill="#2460EE"/>
<circle cx="809.66" cy="235.65" r="1.0" fill="#555"/>
<path d="M798.78 247.07L790.66 255.60" stroke="#2B62E8" stroke-width="1.25"/>
<path d="M790.66 255.60L781.50 265.21" stroke="#202020" stroke-width="0.95"/>
<circle cx="791.52" cy="254.69" r="1.3" fill="#2460EE"/>
<circle cx="787.89" cy="258.50" r="1.0" fill="#555"/>
<path d="M798.78 247.07L807.34 255.41" stroke="#2B62E8" stroke-width="1.25"/>
<path d="M807.34 255.41L817.00 264.82" stroke="#202020" stroke-width="0.95"/>
<circle cx="806.43" cy="254.53" r="1.3" fill="#2460EE"/>
<circle cx="810.26" cy="258.25" r="1.0" fill="#555"/>
<path d="M764.23 283.35L755.66 275.01" stroke="#2B62E8" stroke-width="1.25"/>
<path d="M755.66 275.01L746.00 265.60" stroke="#202020" stroke-width="0.95"/>
<circle cx="756.57" cy="275.89" r="1.3" fill="#2460EE"/>
<circle cx="752.75" cy="272.17" r="1.0" fill="#555"/>
<path d="M764.23 283.35L772.35 274.82" stroke="#2B62E8" stroke-width="1.25"/>
<path d="M772.35 274.82L781.50 265.21" stroke="#202020" stroke-width="0.95"/>
<circle cx="771.48" cy="275.73" r="1.3" fill="#2460EE"/>
<circle cx="775.11" cy="271.92" r="1.0" fill="#555"/>
<path d="M764.23 283.35L756.11 291.87" stroke="#2B62E8" stroke-width="1.25"/>
<path d="M756.11 291.87L746.95 301.48" stroke="#202020" stroke-width="0.95"/>
<circle cx="756.97" cy="290.96" r="1.3" fill="#2460EE"/>
<circle cx="753.34" cy="294.77" r="1.0" fill="#555"/>
<path d="M764.23 283.35L772.79 291.69" stroke="#2B62E8" stroke-width="1.25"/>
<path d="M772.79 291.69L782.45 301.09" stroke="#202020" stroke-width="0.95"/>
<circle cx="771.88" cy="290.80" r="1.3" fill="#2460EE"/>
<circle cx="775.71" cy="294.52" r="1.0" fill="#555"/>
<path d="M799.73 282.95L791.16 274.61" stroke="#2B62E8" stroke-width="1.25"/>
<path d="M791.16 274.61L781.50 265.21" stroke="#202020" stroke-width="0.95"/>
<circle cx="792.07" cy="275.50" r="1.3" fill="#2460EE"/>
<circle cx="788.25" cy="271.78" r="1.0" fill="#555"/>
<path d="M799.73 282.95L807.85 274.43" stroke="#2B62E8" stroke-width="1.25"/>
<path d="M807.85 274.43L817.00 264.82" stroke="#202020" stroke-width="0.95"/>
<circle cx="806.98" cy="275.34" r="1.3" fill="#2460EE"/>
<circle cx="810.61" cy="271.53" r="1.0" fill="#555"/>
<path d="M799.73 282.95L791.61 291.48" stroke="#2B62E8" stroke-width="1.25"/>
<path d="M791.61 291.48L782.45 301.09" stroke="#202020" stroke-width="0.95"/>
<circle cx="792.47" cy="290.57" r="1.3" fill="#2460EE"/>
<circle cx="788.84" cy="294.38" r="1.0" fill="#555"/>
<path d="M799.73 282.95L808.29 291.29" stroke="#2B62E8" stroke-width="1.25"/>
<path d="M808.29 291.29L817.95 300.70" stroke="#202020" stroke-width="0.95"/>
<circle cx="807.38" cy="290.41" r="1.3" fill="#2460EE"/>
<circle cx="811.21" cy="294.13" r="1.0" fill="#555"/>
<path d="M765.18 319.23L756.61 310.89" stroke="#2B62E8" stroke-width="1.25"/>
<path d="M756.61 310.89L746.95 301.48" stroke="#202020" stroke-width="0.95"/>
<circle cx="757.52" cy="311.77" r="1.3" fill="#2460EE"/>
<circle cx="753.70" cy="308.05" r="1.0" fill="#555"/>
<path d="M765.18 319.23L773.30 310.70" stroke="#2B62E8" stroke-width="1.25"/>
<path d="M773.30 310.70L782.45 301.09" stroke="#202020" stroke-width="0.95"/>
<circle cx="772.43" cy="311.61" r="1.3" fill="#2460EE"/>
<circle cx="776.06" cy="307.80" r="1.0" fill="#555"/>
<path d="M765.18 319.23L773.74 327.57" stroke="#2B62E8" stroke-width="1.25"/>
<path d="M773.74 327.57L783.40 336.97" stroke="#202020" stroke-width="0.95"/>
<circle cx="772.83" cy="326.68" r="1.3" fill="#2460EE"/>
<circle cx="776.66" cy="330.40" r="1.0" fill="#555"/>
<path d="M800.68 318.83L792.11 310.49" stroke="#2B62E8" stroke-width="1.25"/>
<path d="M792.11 310.49L782.45 301.09" stroke="#202020" stroke-width="0.95"/>
<circle cx="793.02" cy="311.38" r="1.3" fill="#2460EE"/>
<circle cx="789.20" cy="307.66" r="1.0" fill="#555"/>
<path d="M800.68 318.83L808.80 310.31" stroke="#2B62E8" stroke-width="1.25"/>
<path d="M808.80 310.31L817.95 300.70" stroke="#202020" stroke-width="0.95"/>
<circle cx="807.93" cy="311.22" r="1.3" fill="#2460EE"/>
<circle cx="811.56" cy="307.41" r="1.0" fill="#555"/>
<path d="M800.68 318.83L792.56 327.36" stroke="#2B62E8" stroke-width="1.25"/>
<path d="M792.56 327.36L783.40 336.97" stroke="#202020" stroke-width="0.95"/>
<circle cx="793.42" cy="326.45" r="1.3" fill="#2460EE"/>
<circle cx="789.79" cy="330.26" r="1.0" fill="#555"/>
<circle cx="779.60" cy="193.45" r="1.7" fill="#0a3512"/>
<circle cx="745.05" cy="229.72" r="1.7" fill="#0a3512"/>
<circle cx="780.55" cy="229.33" r="1.7" fill="#0a3512"/>
<circle cx="816.05" cy="228.94" r="1.7" fill="#0a3512"/>
<circle cx="746.00" cy="265.60" r="1.7" fill="#0a3512"/>
<circle cx="781.50" cy="265.21" r="1.7" fill="#0a3512"/>
<circle cx="817.00" cy="264.82" r="1.7" fill="#0a3512"/>
<circle cx="746.95" cy="301.48" r="1.7" fill="#0a3512"/>
<circle cx="782.45" cy="301.09" r="1.7" fill="#0a3512"/>
<circle cx="817.95" cy="300.70" r="1.7" fill="#0a3512"/>
<circle cx="783.40" cy="336.97" r="1.7" fill="#0a3512"/>
<circle cx="762.33" cy="211.59" r="5.0" fill="url(#gR)"/>
<circle cx="797.83" cy="211.19" r="5.0" fill="url(#gR)"/>
<circle cx="763.28" cy="247.47" r="5.0" fill="url(#gR)"/>
<circle cx="798.78" cy="247.07" r="5.0" fill="url(#gR)"/>
<circle cx="764.23" cy="283.35" r="5.0" fill="url(#gR)"/>
<circle cx="799.73" cy="282.95" r="5.0" fill="url(#gR)"/>
<circle cx="765.18" cy="319.23" r="5.0" fill="url(#gR)"/>
<circle cx="800.68" cy="318.83" r="5.0" fill="url(#gR)"/>
<path d="M969.14 214.98L977.58 207.09" stroke="#2B62E8" stroke-width="1.25"/>
<path d="M977.58 207.09L987.10 198.20" stroke="#202020" stroke-width="0.95"/>
<circle cx="976.68" cy="207.93" r="1.3" fill="#2460EE"/>
<circle cx="980.45" cy="204.41" r="1.0" fill="#555"/>
<path d="M969.14 214.98L960.70 222.87" stroke="#2B62E8" stroke-width="1.25"/>
<path d="M960.70 222.87L951.18 231.76" stroke="#202020" stroke-width="0.95"/>
<circle cx="961.59" cy="222.03" r="1.3" fill="#2460EE"/>
<circle cx="957.82" cy="225.56" r="1.0" fill="#555"/>
<path d="M969.14 214.98L977.66 223.72" stroke="#2B62E8" stroke-width="1.25"/>
<path d="M977.66 223.72L987.28 233.57" stroke="#202020" stroke-width="0.95"/>
<circle cx="976.76" cy="222.79" r="1.3" fill="#2460EE"/>
<circle cx="980.57" cy="226.69" r="1.0" fill="#555"/>
<path d="M1005.24 216.79L996.71 208.05" stroke="#2B62E8" stroke-width="1.25"/>
<path d="M996.71 208.05L987.10 198.20" stroke="#202020" stroke-width="0.95"/>
<circle cx="997.62" cy="208.98" r="1.3" fill="#2460EE"/>
<circle cx="993.81" cy="205.08" r="1.0" fill="#555"/>
<path d="M1005.24 216.79L996.80 224.68" stroke="#2B62E8" stroke-width="1.25"/>
<path d="M996.80 224.68L987.28 233.57" stroke="#202020" stroke-width="0.95"/>
<circle cx="997.69" cy="223.84" r="1.3" fill="#2460EE"/>
<circle cx="993.92" cy="227.36" r="1.0" fill="#555"/>
<path d="M1005.24 216.79L1013.76 225.52" stroke="#2B62E8" stroke-width="1.25"/>
<path d="M1013.76 225.52L1023.38 235.38" stroke="#202020" stroke-width="0.95"/>
<circle cx="1012.86" cy="224.59" r="1.3" fill="#2460EE"/>
<circle cx="1016.67" cy="228.50" r="1.0" fill="#555"/>
<path d="M969.32 250.35L960.79 241.62" stroke="#2B62E8" stroke-width="1.25"/>
<path d="M960.79 241.62L951.18 231.76" stroke="#202020" stroke-width="0.95"/>
<circle cx="961.70" cy="242.55" r="1.3" fill="#2460EE"/>
<circle cx="957.89" cy="238.64" r="1.0" fill="#555"/>
<path d="M969.32 250.35L977.76 242.46" stroke="#2B62E8" stroke-width="1.25"/>
<path d="M977.76 242.46L987.28 233.57" stroke="#202020" stroke-width="0.95"/>
<circle cx="976.86" cy="243.30" r="1.3" fill="#2460EE"/>
<circle cx="980.63" cy="239.78" r="1.0" fill="#555"/>
<path d="M969.32 250.35L960.87 258.24" stroke="#2B62E8" stroke-width="1.25"/>
<path d="M960.87 258.24L951.35 267.13" stroke="#202020" stroke-width="0.95"/>
<circle cx="961.77" cy="257.40" r="1.3" fill="#2460EE"/>
<circle cx="958.00" cy="260.93" r="1.0" fill="#555"/>
<path d="M969.32 250.35L977.84 259.09" stroke="#2B62E8" stroke-width="1.25"/>
<path d="M977.84 259.09L987.45 268.94" stroke="#202020" stroke-width="0.95"/>
<circle cx="976.93" cy="258.16" r="1.3" fill="#2460EE"/>
<circle cx="980.74" cy="262.06" r="1.0" fill="#555"/>
<path d="M1005.42 252.16L996.89 243.42" stroke="#2B62E8" stroke-width="1.25"/>
<path d="M996.89 243.42L987.28 233.57" stroke="#202020" stroke-width="0.95"/>
<circle cx="997.80" cy="244.35" r="1.3" fill="#2460EE"/>
<circle cx="993.99" cy="240.45" r="1.0" fill="#555"/>
<path d="M1005.42 252.16L1013.86 244.27" stroke="#2B62E8" stroke-width="1.25"/>
<path d="M1013.86 244.27L1023.38 235.38" stroke="#202020" stroke-width="0.95"/>
<circle cx="1012.96" cy="245.11" r="1.3" fill="#2460EE"/>
<circle cx="1016.73" cy="241.58" r="1.0" fill="#555"/>
<path d="M1005.42 252.16L996.97 260.05" stroke="#2B62E8" stroke-width="1.25"/>
<path d="M996.97 260.05L987.45 268.94" stroke="#202020" stroke-width="0.95"/>
<circle cx="997.87" cy="259.21" r="1.3" fill="#2460EE"/>
<circle cx="994.10" cy="262.73" r="1.0" fill="#555"/>
<path d="M1005.42 252.16L1013.94 260.89" stroke="#2B62E8" stroke-width="1.25"/>
<path d="M1013.94 260.89L1023.55 270.75" stroke="#202020" stroke-width="0.95"/>
<circle cx="1013.03" cy="259.96" r="1.3" fill="#2460EE"/>
<circle cx="1016.84" cy="263.87" r="1.0" fill="#555"/>
<path d="M969.49 285.72L960.97 276.99" stroke="#2B62E8" stroke-width="1.25"/>
<path d="M960.97 276.99L951.35 267.13" stroke="#202020" stroke-width="0.95"/>
<circle cx="961.87" cy="277.92" r="1.3" fill="#2460EE"/>
<circle cx="958.06" cy="274.01" r="1.0" fill="#555"/>
<path d="M969.49 285.72L977.93 277.83" stroke="#2B62E8" stroke-width="1.25"/>
<path d="M977.93 277.83L987.45 268.94" stroke="#202020" stroke-width="0.95"/>
<circle cx="977.04" cy="278.67" r="1.3" fill="#2460EE"/>
<circle cx="980.81" cy="275.15" r="1.0" fill="#555"/>
<path d="M969.49 285.72L961.05 293.61" stroke="#2B62E8" stroke-width="1.25"/>
<path d="M961.05 293.61L951.53 302.50" stroke="#202020" stroke-width="0.95"/>
<circle cx="961.95" cy="292.77" r="1.3" fill="#2460EE"/>
<circle cx="958.18" cy="296.30" r="1.0" fill="#555"/>
<path d="M969.49 285.72L978.02 294.46" stroke="#2B62E8" stroke-width="1.25"/>
<path d="M978.02 294.46L987.63 304.31" stroke="#202020" stroke-width="0.95"/>
<circle cx="977.11" cy="293.53" r="1.3" fill="#2460EE"/>
<circle cx="980.92" cy="297.43" r="1.0" fill="#555"/>
<path d="M1005.59 287.53L997.07 278.79" stroke="#2B62E8" stroke-width="1.25"/>
<path d="M997.07 278.79L987.45 268.94" stroke="#202020" stroke-width="0.95"/>
<circle cx="997.97" cy="279.72" r="1.3" fill="#2460EE"/>
<circle cx="994.16" cy="275.82" r="1.0" fill="#555"/>
<path d="M1005.59 287.53L1014.03 279.64" stroke="#2B62E8" stroke-width="1.25"/>
<path d="M1014.03 279.64L1023.55 270.75" stroke="#202020" stroke-width="0.95"/>
<circle cx="1013.14" cy="280.48" r="1.3" fill="#2460EE"/>
<circle cx="1016.91" cy="276.95" r="1.0" fill="#555"/>
<path d="M1005.59 287.53L997.15 295.42" stroke="#2B62E8" stroke-width="1.25"/>
<path d="M997.15 295.42L987.63 304.31" stroke="#202020" stroke-width="0.95"/>
<circle cx="998.05" cy="294.58" r="1.3" fill="#2460EE"/>
<circle cx="994.28" cy="298.10" r="1.0" fill="#555"/>
<path d="M1005.59 287.53L1014.12 296.26" stroke="#2B62E8" stroke-width="1.25"/>
<path d="M1014.12 296.26L1023.73 306.11" stroke="#202020" stroke-width="0.95"/>
<circle cx="1013.21" cy="295.33" r="1.3" fill="#2460EE"/>
<circle cx="1017.02" cy="299.24" r="1.0" fill="#555"/>
<path d="M969.67 321.09L961.14 312.36" stroke="#2B62E8" stroke-width="1.25"/>
<path d="M961.14 312.36L951.53 302.50" stroke="#202020" stroke-width="0.95"/>
<circle cx="962.05" cy="313.29" r="1.3" fill="#2460EE"/>
<circle cx="958.24" cy="309.38" r="1.0" fill="#555"/>
<path d="M969.67 321.09L978.11 313.20" stroke="#2B62E8" stroke-width="1.25"/>
<path d="M978.11 313.20L987.63 304.31" stroke="#202020" stroke-width="0.95"/>
<circle cx="977.21" cy="314.04" r="1.3" fill="#2460EE"/>
<circle cx="980.98" cy="310.52" r="1.0" fill="#555"/>
<path d="M969.67 321.09L978.19 329.83" stroke="#2B62E8" stroke-width="1.25"/>
<path d="M978.19 329.83L987.81 339.68" stroke="#202020" stroke-width="0.95"/>
<circle cx="977.29" cy="328.90" r="1.3" fill="#2460EE"/>
<circle cx="981.10" cy="332.80" r="1.0" fill="#555"/>
<path d="M1005.77 322.90L997.24 314.16" stroke="#2B62E8" stroke-width="1.25"/>
<path d="M997.24 314.16L987.63 304.31" stroke="#202020" stroke-width="0.95"/>
<circle cx="998.15" cy="315.09" r="1.3" fill="#2460EE"/>
<circle cx="994.34" cy="311.19" r="1.0" fill="#555"/>
<path d="M1005.77 322.90L1014.21 315.01" stroke="#2B62E8" stroke-width="1.25"/>
<path d="M1014.21 315.01L1023.73 306.11" stroke="#202020" stroke-width="0.95"/>
<circle cx="1013.31" cy="315.85" r="1.3" fill="#2460EE"/>
<circle cx="1017.08" cy="312.32" r="1.0" fill="#555"/>
<path d="M1005.77 322.90L997.33 330.79" stroke="#2B62E8" stroke-width="1.25"/>
<path d="M997.33 330.79L987.81 339.68" stroke="#202020" stroke-width="0.95"/>
<circle cx="998.23" cy="329.95" r="1.3" fill="#2460EE"/>
<circle cx="994.45" cy="333.47" r="1.0" fill="#555"/>
<circle cx="987.10" cy="198.20" r="1.7" fill="#0a3512"/>
<circle cx="951.18" cy="231.76" r="1.7" fill="#0a3512"/>
<circle cx="987.28" cy="233.57" r="1.7" fill="#0a3512"/>
<circle cx="1023.38" cy="235.38" r="1.7" fill="#0a3512"/>
<circle cx="951.35" cy="267.13" r="1.7" fill="#0a3512"/>
<circle cx="987.45" cy="268.94" r="1.7" fill="#0a3512"/>
<circle cx="1023.55" cy="270.75" r="1.7" fill="#0a3512"/>
<circle cx="951.53" cy="302.50" r="1.7" fill="#0a3512"/>
<circle cx="987.63" cy="304.31" r="1.7" fill="#0a3512"/>
<circle cx="1023.73" cy="306.11" r="1.7" fill="#0a3512"/>
<circle cx="987.81" cy="339.68" r="1.7" fill="#0a3512"/>
<circle cx="969.14" cy="214.98" r="5.0" fill="url(#gO)"/>
<circle cx="1005.24" cy="216.79" r="5.0" fill="url(#gO)"/>
<circle cx="969.32" cy="250.35" r="5.0" fill="url(#gR)"/>
<circle cx="1005.42" cy="252.16" r="5.0" fill="url(#gR)"/>
<circle cx="969.49" cy="285.72" r="5.0" fill="url(#gO)"/>
<circle cx="1005.59" cy="287.53" r="5.0" fill="url(#gO)"/>
<circle cx="969.67" cy="321.09" r="5.0" fill="url(#gR)"/>
<circle cx="1005.77" cy="322.90" r="5.0" fill="url(#gR)"/>
<path d="M1117.45 49.31L1125.93 41.22" stroke="#2B62E8" stroke-width="1.25"/>
<path d="M1125.93 41.22L1135.50 32.10" stroke="#202020" stroke-width="0.95"/>
<circle cx="1125.03" cy="42.08" r="1.3" fill="#2460EE"/>
<circle cx="1128.82" cy="38.47" r="1.0" fill="#555"/>
<path d="M1117.45 49.31L1108.97 57.39" stroke="#2B62E8" stroke-width="1.25"/>
<path d="M1108.97 57.39L1099.40 66.51" stroke="#202020" stroke-width="0.95"/>
<circle cx="1109.87" cy="56.53" r="1.3" fill="#2460EE"/>
<circle cx="1106.08" cy="60.15" r="1.0" fill="#555"/>
<path d="M1117.45 49.31L1126.03 57.87" stroke="#2B62E8" stroke-width="1.25"/>
<path d="M1126.03 57.87L1135.70 67.53" stroke="#202020" stroke-width="0.95"/>
<circle cx="1125.11" cy="56.96" r="1.3" fill="#2460EE"/>
<circle cx="1128.95" cy="60.79" r="1.0" fill="#555"/>
<path d="M1153.75 50.32L1145.17 41.76" stroke="#2B62E8" stroke-width="1.25"/>
<path d="M1145.17 41.76L1135.50 32.10" stroke="#202020" stroke-width="0.95"/>
<circle cx="1146.08" cy="42.67" r="1.3" fill="#2460EE"/>
<circle cx="1142.25" cy="38.84" r="1.0" fill="#555"/>
<path d="M1153.75 50.32L1145.27 58.41" stroke="#2B62E8" stroke-width="1.25"/>
<path d="M1145.27 58.41L1135.70 67.53" stroke="#202020" stroke-width="0.95"/>
<circle cx="1146.17" cy="57.55" r="1.3" fill="#2460EE"/>
<circle cx="1142.38" cy="61.16" r="1.0" fill="#555"/>
<path d="M1153.75 50.32L1162.33 58.89" stroke="#2B62E8" stroke-width="1.25"/>
<path d="M1162.33 58.89L1172.00 68.55" stroke="#202020" stroke-width="0.95"/>
<circle cx="1161.41" cy="57.98" r="1.3" fill="#2460EE"/>
<circle cx="1165.25" cy="61.80" r="1.0" fill="#555"/>
<path d="M1117.65 84.74L1109.07 76.17" stroke="#2B62E8" stroke-width="1.25"/>
<path d="M1109.07 76.17L1099.40 66.51" stroke="#202020" stroke-width="0.95"/>
<circle cx="1109.98" cy="77.08" r="1.3" fill="#2460EE"/>
<circle cx="1106.15" cy="73.26" r="1.0" fill="#555"/>
<path d="M1117.65 84.74L1126.13 76.65" stroke="#2B62E8" stroke-width="1.25"/>
<path d="M1126.13 76.65L1135.70 67.53" stroke="#202020" stroke-width="0.95"/>
<circle cx="1125.23" cy="77.51" r="1.3" fill="#2460EE"/>
<circle cx="1129.02" cy="73.90" r="1.0" fill="#555"/>
<path d="M1117.65 84.74L1109.16 92.82" stroke="#2B62E8" stroke-width="1.25"/>
<path d="M1109.16 92.82L1099.60 101.94" stroke="#202020" stroke-width="0.95"/>
<circle cx="1110.07" cy="91.96" r="1.3" fill="#2460EE"/>
<circle cx="1106.28" cy="95.58" r="1.0" fill="#555"/>
<path d="M1117.65 84.74L1126.22 93.30" stroke="#2B62E8" stroke-width="1.25"/>
<path d="M1126.22 93.30L1135.90 102.96" stroke="#202020" stroke-width="0.95"/>
<circle cx="1125.31" cy="92.39" r="1.3" fill="#2460EE"/>
<circle cx="1129.14" cy="96.22" r="1.0" fill="#555"/>
<path d="M1153.95 85.75L1145.37 77.19" stroke="#2B62E8" stroke-width="1.25"/>
<path d="M1145.37 77.19L1135.70 67.53" stroke="#202020" stroke-width="0.95"/>
<circle cx="1146.28" cy="78.10" r="1.3" fill="#2460EE"/>
<circle cx="1142.45" cy="74.27" r="1.0" fill="#555"/>
<path d="M1153.95 85.75L1162.43 77.67" stroke="#2B62E8" stroke-width="1.25"/>
<path d="M1162.43 77.67L1172.00 68.55" stroke="#202020" stroke-width="0.95"/>
<circle cx="1161.53" cy="78.53" r="1.3" fill="#2460EE"/>
<circle cx="1165.32" cy="74.91" r="1.0" fill="#555"/>
<path d="M1153.95 85.75L1145.46 93.84" stroke="#2B62E8" stroke-width="1.25"/>
<path d="M1145.46 93.84L1135.90 102.96" stroke="#202020" stroke-width="0.95"/>
<circle cx="1146.37" cy="92.98" r="1.3" fill="#2460EE"/>
<circle cx="1142.58" cy="96.59" r="1.0" fill="#555"/>
<path d="M1153.95 85.75L1162.52 94.32" stroke="#2B62E8" stroke-width="1.25"/>
<path d="M1162.52 94.32L1172.20 103.98" stroke="#202020" stroke-width="0.95"/>
<circle cx="1161.61" cy="93.41" r="1.3" fill="#2460EE"/>
<circle cx="1165.44" cy="97.23" r="1.0" fill="#555"/>
<path d="M1117.85 120.17L1109.27 111.60" stroke="#2B62E8" stroke-width="1.25"/>
<path d="M1109.27 111.60L1099.60 101.94" stroke="#202020" stroke-width="0.95"/>
<circle cx="1110.18" cy="112.51" r="1.3" fill="#2460EE"/>
<circle cx="1106.35" cy="108.69" r="1.0" fill="#555"/>
<path d="M1117.85 120.17L1126.33 112.08" stroke="#2B62E8" stroke-width="1.25"/>
<path d="M1126.33 112.08L1135.90 102.96" stroke="#202020" stroke-width="0.95"/>
<circle cx="1125.43" cy="112.94" r="1.3" fill="#2460EE"/>
<circle cx="1129.22" cy="109.33" r="1.0" fill="#555"/>
<path d="M1117.85 120.17L1109.36 128.25" stroke="#2B62E8" stroke-width="1.25"/>
<path d="M1109.36 128.25L1099.80 137.37" stroke="#202020" stroke-width="0.95"/>
<circle cx="1110.26" cy="127.39" r="1.3" fill="#2460EE"/>
<circle cx="1106.47" cy="131.01" r="1.0" fill="#555"/>
<path d="M1117.85 120.17L1126.42 128.73" stroke="#2B62E8" stroke-width="1.25"/>
<path d="M1126.42 128.73L1136.10 138.39" stroke="#202020" stroke-width="0.95"/>
<circle cx="1125.51" cy="127.82" r="1.3" fill="#2460EE"/>
<circle cx="1129.34" cy="131.65" r="1.0" fill="#555"/>
<path d="M1154.15 121.18L1145.57 112.62" stroke="#2B62E8" stroke-width="1.25"/>
<path d="M1145.57 112.62L1135.90 102.96" stroke="#202020" stroke-width="0.95"/>
<circle cx="1146.48" cy="113.53" r="1.3" fill="#2460EE"/>
<circle cx="1142.65" cy="109.70" r="1.0" fill="#555"/>
<path d="M1154.15 121.18L1162.63 113.10" stroke="#2B62E8" stroke-width="1.25"/>
<path d="M1162.63 113.10L1172.20 103.98" stroke="#202020" stroke-width="0.95"/>
<circle cx="1161.73" cy="113.96" r="1.3" fill="#2460EE"/>
<circle cx="1165.52" cy="110.34" r="1.0" fill="#555"/>
<path d="M1154.15 121.18L1145.66 129.27" stroke="#2B62E8" stroke-width="1.25"/>
<path d="M1145.66 129.27L1136.10 138.39" stroke="#202020" stroke-width="0.95"/>
<circle cx="1146.56" cy="128.41" r="1.3" fill="#2460EE"/>
<circle cx="1142.77" cy="132.02" r="1.0" fill="#555"/>
<path d="M1154.15 121.18L1162.72 129.75" stroke="#2B62E8" stroke-width="1.25"/>
<path d="M1162.72 129.75L1172.40 139.41" stroke="#202020" stroke-width="0.95"/>
<circle cx="1161.81" cy="128.84" r="1.3" fill="#2460EE"/>
<circle cx="1165.64" cy="132.66" r="1.0" fill="#555"/>
<path d="M1118.04 155.60L1109.47 147.03" stroke="#2B62E8" stroke-width="1.25"/>
<path d="M1109.47 147.03L1099.80 137.37" stroke="#202020" stroke-width="0.95"/>
<circle cx="1110.38" cy="147.94" r="1.3" fill="#2460EE"/>
<circle cx="1106.55" cy="144.12" r="1.0" fill="#555"/>
<path d="M1118.04 155.60L1126.53 147.51" stroke="#2B62E8" stroke-width="1.25"/>
<path d="M1126.53 147.51L1136.10 138.39" stroke="#202020" stroke-width="0.95"/>
<circle cx="1125.63" cy="148.37" r="1.3" fill="#2460EE"/>
<circle cx="1129.42" cy="144.76" r="1.0" fill="#555"/>
<path d="M1118.04 155.60L1126.62 164.16" stroke="#2B62E8" stroke-width="1.25"/>
<path d="M1126.62 164.16L1136.29 173.82" stroke="#202020" stroke-width="0.95"/>
<circle cx="1125.71" cy="163.25" r="1.3" fill="#2460EE"/>
<circle cx="1129.54" cy="167.08" r="1.0" fill="#555"/>
<path d="M1154.34 156.61L1145.77 148.05" stroke="#2B62E8" stroke-width="1.25"/>
<path d="M1145.77 148.05L1136.10 138.39" stroke="#202020" stroke-width="0.95"/>
<circle cx="1146.68" cy="148.96" r="1.3" fill="#2460EE"/>
<circle cx="1142.85" cy="145.13" r="1.0" fill="#555"/>
<path d="M1154.34 156.61L1162.83 148.53" stroke="#2B62E8" stroke-width="1.25"/>
<path d="M1162.83 148.53L1172.40 139.41" stroke="#202020" stroke-width="0.95"/>
<circle cx="1161.93" cy="149.39" r="1.3" fill="#2460EE"/>
<circle cx="1165.72" cy="145.77" r="1.0" fill="#555"/>
<path d="M1154.34 156.61L1145.86 164.70" stroke="#2B62E8" stroke-width="1.25"/>
<path d="M1145.86 164.70L1136.29 173.82" stroke="#202020" stroke-width="0.95"/>
<circle cx="1146.76" cy="163.84" r="1.3" fill="#2460EE"/>
<circle cx="1142.97" cy="167.45" r="1.0" fill="#555"/>
<circle cx="1135.50" cy="32.10" r="1.7" fill="#0a3512"/>
<circle cx="1099.40" cy="66.51" r="1.7" fill="#0a3512"/>
<circle cx="1135.70" cy="67.53" r="1.7" fill="#0a3512"/>
<circle cx="1172.00" cy="68.55" r="1.7" fill="#0a3512"/>
<circle cx="1099.60" cy="101.94" r="1.7" fill="#0a3512"/>
<circle cx="1135.90" cy="102.96" r="1.7" fill="#0a3512"/>
<circle cx="1172.20" cy="103.98" r="1.7" fill="#0a3512"/>
<circle cx="1099.80" cy="137.37" r="1.7" fill="#0a3512"/>
<circle cx="1136.10" cy="138.39" r="1.7" fill="#0a3512"/>
<circle cx="1172.40" cy="139.41" r="1.7" fill="#0a3512"/>
<circle cx="1136.29" cy="173.82" r="1.7" fill="#0a3512"/>
<circle cx="1117.45" cy="49.31" r="5.2" fill="url(#gO)"/>
<circle cx="1153.75" cy="50.32" r="5.2" fill="url(#gO)"/>
<circle cx="1117.65" cy="84.74" r="5.2" fill="url(#gO)"/>
<circle cx="1153.95" cy="85.75" r="5.2" fill="url(#gO)"/>
<circle cx="1117.85" cy="120.17" r="5.2" fill="url(#gO)"/>
<circle cx="1154.15" cy="121.18" r="5.2" fill="url(#gO)"/>
<circle cx="1118.04" cy="155.60" r="5.2" fill="url(#gO)"/>
<circle cx="1154.34" cy="156.61" r="5.2" fill="url(#gO)"/>
<g stroke="#000" stroke-width="2.05" fill="none" stroke-linecap="butt">
<path d="M735.1 1.0L735.1 363.825M734.075 362.8L1186.625 362.8M1185.6 363.825L1185.6 1.0"/>
<path d="M734.075 1.0L1186.625 1.0" stroke-width="1.6" stroke="#0a0a0a"/>
</g>
<g stroke="#000" stroke-width="1.9" fill="none">
<path d="M1185.6 362.9h-6.9"/>
<path d="M1185.6 275.8h-6.9"/>
<path d="M1185.6 188.7h-6.9"/>
<path d="M1185.6 101.6h-6.9"/>
<path d="M1185.6 14.5h-6.9"/>
<path d="M1185.6 319.3h-4"/>
<path d="M1185.6 232.2h-4"/>
<path d="M1185.6 145.1h-4"/>
<path d="M1185.6 58.1h-4"/>
</g>
<g font-family='"Liberation Sans", sans-serif' font-size="20.5" fill="#000" style="filter:grayscale(1)">
<text transform="translate(727.1 369.2) scale(1 1.045)" text-anchor="end">0.0</text>
<text transform="translate(727.1 320.2) scale(1 1.045)" text-anchor="end">0.5</text>
<text transform="translate(727.1 271.3) scale(1 1.045)" text-anchor="end">1.0</text>
<text transform="translate(727.1 222.3) scale(1 1.045)" text-anchor="end">1.5</text>
<text transform="translate(727.1 173.3) scale(1 1.045)" text-anchor="end">2.0</text>
<text transform="translate(727.1 124.4) scale(1 1.045)" text-anchor="end">2.5</text>
<text transform="translate(727.1 75.4) scale(1 1.045)" text-anchor="end">3.0</text>
<text transform="translate(727.1 26.4) scale(1 1.045)" text-anchor="end">3.5</text>
<text transform="translate(1193.4 369.3) scale(1 1.045)" text-anchor="start">0.00</text>
<text transform="translate(1193.4 282.2) scale(1 1.045)" text-anchor="start">0.25</text>
<text transform="translate(1193.4 195.1) scale(1 1.045)" text-anchor="start">0.50</text>
<text transform="translate(1193.4 108.0) scale(1 1.045)" text-anchor="start">0.75</text>
<text transform="translate(1193.4 20.9) scale(1 1.045)" text-anchor="start">1.00</text>
<text transform="translate(734.6 386.9) scale(1 1.045)" text-anchor="middle">50</text>
<text transform="translate(847.2 386.9) scale(1 1.045)" text-anchor="middle">100</text>
<text transform="translate(959.8 386.9) scale(1 1.045)" text-anchor="middle">150</text>
<text transform="translate(1072.5 386.9) scale(1 1.045)" text-anchor="middle">200</text>
<text transform="translate(1185.1 386.9) scale(1 1.045)" text-anchor="middle">250</text>
</g>
<text x="801.8" y="41" font-family='"Liberation Serif", "Noto Serif CJK SC", serif' font-size="36.3" font-weight="bold" fill="#0A1CC8" textLength="216.3" lengthAdjust="spacing">通道型孔结构</text>
<g transform="translate(680.8 275.2) rotate(-90)" font-family='"Liberation Sans", sans-serif' fill="#000">
<text transform="translate(-0.10 0.00) skewX(-12)" font-size="24">χ</text>
<text x="11.44" y="7.60" font-size="14.5">M</text>
<text x="25.30" y="0.00" font-size="24" font-style="italic">T</text>
<text x="45.80" y="0.00" font-size="24">/</text>
<text x="58.20" y="0.00" font-size="24">cm</text>
<text x="91.10" y="-8.60" font-size="14">3</text>
<text x="104.00" y="0.00" font-size="24">K</text>
<text x="126.30" y="0.00" font-size="24">mol</text>
<text x="165.60" y="-9.60" font-size="14">-1</text>
</g>
<g transform="translate(1259.2 303.1) rotate(-90)" font-family='"Liberation Sans", sans-serif' fill="#000">
<text x="0.00" y="0.00" font-size="21">γ</text>
<text x="10.05" y="7.50" font-size="14">HS</text>
<text x="36.40" y="0.00" font-size="24.2">(HS molar fraction)</text>
</g>
<text x="960.6" y="425.4" text-anchor="middle" font-family='"Liberation Sans", sans-serif' font-size="24" fill="#000" style="filter:grayscale(1)"><tspan font-style="italic">T</tspan> / K</text>
</svg>
</body></html>
